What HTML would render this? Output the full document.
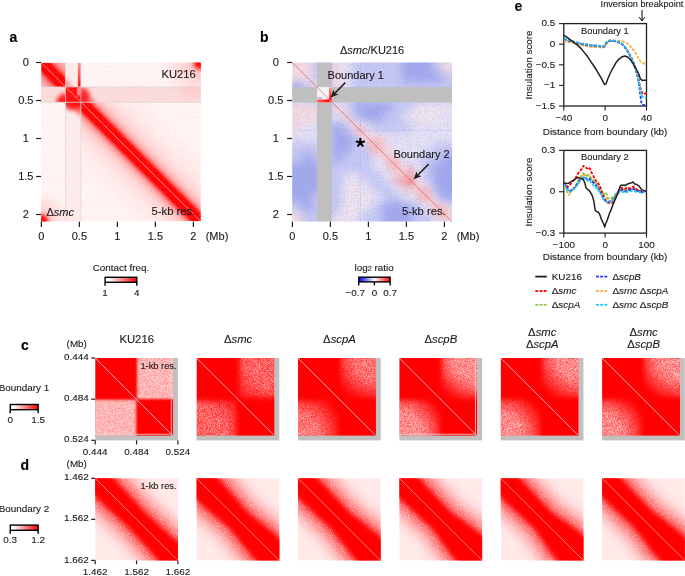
<!DOCTYPE html>
<html><head><meta charset="utf-8"><style>
html,body{margin:0;padding:0;background:#fff;}
svg{display:block;font-family:"Liberation Sans", sans-serif;will-change:transform;}
</style></head><body>
<svg width="685" height="576" viewBox="0 0 685 576">
<defs><clipPath id="clipA"><rect x="0" y="0" width="159.8" height="159.0"/></clipPath><filter id="blur1" x="-50%" y="-50%" width="200%" height="200%"><feGaussianBlur stdDeviation="1"/></filter><filter id="blur2" x="-50%" y="-50%" width="200%" height="200%"><feGaussianBlur stdDeviation="2"/></filter><filter id="blur4" x="-50%" y="-50%" width="200%" height="200%"><feGaussianBlur stdDeviation="4"/></filter><clipPath id="aL"><rect x="0" y="24.4" width="24.4" height="15.399999999999999"/></clipPath><clipPath id="aB"><rect x="24.4" y="39.8" width="15.399999999999999" height="120.00000000000001"/></clipPath><clipPath id="aR"><rect x="39.8" y="24.4" width="120.00000000000001" height="15.399999999999999"/></clipPath><clipPath id="aT"><rect x="24.4" y="0" width="15.399999999999999" height="24.4"/></clipPath><clipPath id="aI"><rect x="24.4" y="24.4" width="15.399999999999999" height="15.399999999999999"/></clipPath><linearGradient id="gA1" gradientUnits="userSpaceOnUse" x1="37.47" y1="122.33" x2="122.33" y2="37.47"><stop offset="0.0833" stop-color="#ff0000" stop-opacity="0"/><stop offset="0.2083" stop-color="#ff0000" stop-opacity="0.025"/><stop offset="0.2917" stop-color="#ff0000" stop-opacity="0.06"/><stop offset="0.3583" stop-color="#ff0000" stop-opacity="0.13"/><stop offset="0.3958" stop-color="#ff0000" stop-opacity="0.24"/><stop offset="0.4183" stop-color="#ff0000" stop-opacity="0.37"/><stop offset="0.435" stop-color="#ff0000" stop-opacity="0.56"/><stop offset="0.4483" stop-color="#ff0000" stop-opacity="0.8"/><stop offset="0.4617" stop-color="#ff0000" stop-opacity="1"/><stop offset="0.5" stop-color="#ff0000" stop-opacity="1"/><stop offset="0.5383" stop-color="#ff0000" stop-opacity="1"/><stop offset="0.5517" stop-color="#ff0000" stop-opacity="0.8"/><stop offset="0.565" stop-color="#ff0000" stop-opacity="0.56"/><stop offset="0.5817" stop-color="#ff0000" stop-opacity="0.37"/><stop offset="0.6042" stop-color="#ff0000" stop-opacity="0.24"/><stop offset="0.6417" stop-color="#ff0000" stop-opacity="0.13"/><stop offset="0.7083" stop-color="#ff0000" stop-opacity="0.06"/><stop offset="0.7917" stop-color="#ff0000" stop-opacity="0.025"/><stop offset="0.9167" stop-color="#ff0000" stop-opacity="0"/></linearGradient><linearGradient id="gStripe" x1="0" y1="0" x2="0" y2="1"><stop offset="0" stop-color="#ff0000" stop-opacity="0.35"/><stop offset="1" stop-color="#ff0000" stop-opacity="0.95"/></linearGradient><clipPath id="aBand"><rect x="0" y="0" width="24.4" height="24.4"/><rect x="24.4" y="24.4" width="15.399999999999999" height="15.399999999999999"/><rect x="39.8" y="39.8" width="120.00000000000001" height="119.2"/></clipPath><radialGradient id="gCorner" r="0.5"><stop offset="0" stop-color="#ff0000" stop-opacity="0.3"/><stop offset="0.4" stop-color="#ff0000" stop-opacity="0.12"/><stop offset="1" stop-color="#ff0000" stop-opacity="0"/></radialGradient><filter id="nzA" filterUnits="userSpaceOnUse" x="0" y="0" width="159.8" height="159.0" color-interpolation-filters="sRGB"><feTurbulence type="fractalNoise" baseFrequency="1.2" numOctaves="1" seed="11" result="n"/><feColorMatrix in="n" type="matrix" values="0 0 0 0 1  0 0 0 0 1  0 0 0 0 1  3.0 0 0 0 -1.6" result="L0"/><feColorMatrix in="n" type="matrix" values="0 0 0 0 1  0 0 0 0 0.55  0 0 0 0 0.55  -3.0 0 0 0 1.45" result="L1"/><feMerge><feMergeNode in="L0"/><feMergeNode in="L1"/></feMerge></filter><clipPath id="clipB"><rect x="0" y="0" width="159.8" height="159.0"/></clipPath><filter id="blurB" filterUnits="userSpaceOnUse" x="-20" y="-20" width="200" height="200"><feGaussianBlur stdDeviation="4.5"/></filter><filter id="blur3" x="-50%" y="-50%" width="200%" height="200%"><feGaussianBlur stdDeviation="2.5"/></filter><linearGradient id="gBand" gradientUnits="userSpaceOnUse" x1="37.47" y1="122.33" x2="122.33" y2="37.47"><stop offset="0" stop-color="#f6d0d4" stop-opacity="0"/><stop offset="0.425" stop-color="#f6d0d4" stop-opacity="0"/><stop offset="0.4525" stop-color="#f6d0d4" stop-opacity="0.2"/><stop offset="0.4708333333333333" stop-color="#f6d0d4" stop-opacity="0.5"/><stop offset="0.5291666666666667" stop-color="#f6d0d4" stop-opacity="0.5"/><stop offset="0.5475" stop-color="#f6d0d4" stop-opacity="0.2"/><stop offset="0.575" stop-color="#f6d0d4" stop-opacity="0"/><stop offset="1" stop-color="#f6d0d4" stop-opacity="0"/></linearGradient><filter id="nzB" filterUnits="userSpaceOnUse" x="0" y="0" width="159.8" height="159.0" color-interpolation-filters="sRGB"><feTurbulence type="fractalNoise" baseFrequency="1.3" numOctaves="1" seed="7" result="n"/><feColorMatrix in="n" type="matrix" values="0 0 0 0 0.97  0 0 0 0 0.6  0 0 0 0 0.62  3.0 0 0 0 -1.6" result="L0"/><feColorMatrix in="n" type="matrix" values="0 0 0 0 0.5  0 0 0 0 0.55  0 0 0 0 0.97  -3.0 0 0 0 1.4" result="L1"/><feMerge><feMergeNode in="L0"/><feMergeNode in="L1"/></feMerge></filter><linearGradient id="ibar1" x1="0" y1="0" x2="1" y2="0"><stop offset="0" stop-color="#ff6060"/><stop offset="1" stop-color="#ff0000"/></linearGradient><linearGradient id="ibar2" x1="0" y1="0" x2="0" y2="1"><stop offset="0" stop-color="#ff9090"/><stop offset="1" stop-color="#ff0000"/></linearGradient><linearGradient id="cbRed" x1="0" y1="0" x2="1" y2="0"><stop offset="0" stop-color="#fff"/><stop offset="0.12" stop-color="#fff"/><stop offset="1" stop-color="#ff0000"/></linearGradient><linearGradient id="cbBWR" x1="0" y1="0" x2="1" y2="0"><stop offset="0" stop-color="#0000ff"/><stop offset="0.5" stop-color="#ffffff"/><stop offset="1" stop-color="#ff0000"/></linearGradient><clipPath id="clip1"><rect x="563.8" y="22.6" width="83.70000000000005" height="84.4"/></clipPath><clipPath id="clip2"><rect x="563.8" y="149.4" width="83.70000000000005" height="84.69999999999999"/></clipPath><clipPath id="cclip0"><rect x="0" y="0" width="78.0" height="77.8"/></clipPath><filter id="cb0" x="-50%" y="-50%" width="200%" height="200%"><feGaussianBlur stdDeviation="0.8"/></filter><radialGradient id="cr0a" gradientUnits="userSpaceOnUse" cx="78.0" cy="0" r="80"><stop offset="0" stop-color="#ffffff" stop-opacity="1.0"/><stop offset="0.85" stop-color="#ffffff" stop-opacity="1.0"/><stop offset="1" stop-color="#ffffff" stop-opacity="0"/></radialGradient><radialGradient id="cr0b" gradientUnits="userSpaceOnUse" cx="0" cy="77.8" r="80"><stop offset="0" stop-color="#ffffff" stop-opacity="1.0"/><stop offset="0.85" stop-color="#ffffff" stop-opacity="1.0"/><stop offset="1" stop-color="#ffffff" stop-opacity="0"/></radialGradient><filter id="spk0" filterUnits="userSpaceOnUse" x="0" y="0" width="78.0" height="77.8" color-interpolation-filters="sRGB"><feTurbulence type="fractalNoise" baseFrequency="1.6" numOctaves="1" seed="1" result="n"/><feColorMatrix in="n" type="matrix" values="0 0 0 0 1  0 0 0 0 1  0 0 0 0 1  0.6 0 0 0 0.41" result="w"/><feComposite in="w" in2="SourceGraphic" operator="arithmetic" k1="1" k2="0" k3="0" k4="0"/></filter><clipPath id="dclip0"><rect x="0" y="0" width="82.8" height="82.2"/></clipPath><filter id="db0" x="-50%" y="-50%" width="200%" height="200%"><feGaussianBlur stdDeviation="2.2"/></filter><filter id="dh0" x="-50%" y="-50%" width="200%" height="200%"><feGaussianBlur stdDeviation="5"/></filter><filter id="dspk0" filterUnits="userSpaceOnUse" x="0" y="0" width="82.8" height="82.2" color-interpolation-filters="sRGB"><feTurbulence type="fractalNoise" baseFrequency="1.1" numOctaves="1" seed="2" result="n"/><feColorMatrix in="n" type="matrix" values="0 0 0 0 1  0 0 0 0 1  0 0 0 0 1  2.2 0 0 0 -0.1" result="w"/><feComposite in="w" in2="SourceGraphic" operator="arithmetic" k1="1" k2="0" k3="0" k4="0"/></filter><clipPath id="cclip1"><rect x="0" y="0" width="78.0" height="77.8"/></clipPath><filter id="cb1" x="-50%" y="-50%" width="200%" height="200%"><feGaussianBlur stdDeviation="2.4"/></filter><radialGradient id="cr1a" gradientUnits="userSpaceOnUse" cx="78.0" cy="0" r="60"><stop offset="0" stop-color="#ffffff" stop-opacity="1.0"/><stop offset="0.5" stop-color="#ffffff" stop-opacity="1.0"/><stop offset="1" stop-color="#ffffff" stop-opacity="0"/></radialGradient><radialGradient id="cr1b" gradientUnits="userSpaceOnUse" cx="0" cy="77.8" r="60"><stop offset="0" stop-color="#ffffff" stop-opacity="1.0"/><stop offset="0.5" stop-color="#ffffff" stop-opacity="1.0"/><stop offset="1" stop-color="#ffffff" stop-opacity="0"/></radialGradient><filter id="spk1" filterUnits="userSpaceOnUse" x="0" y="0" width="78.0" height="77.8" color-interpolation-filters="sRGB"><feTurbulence type="fractalNoise" baseFrequency="1.6" numOctaves="1" seed="4" result="n"/><feColorMatrix in="n" type="matrix" values="0 0 0 0 1  0 0 0 0 1  0 0 0 0 1  1.0 0 0 0 -0.12" result="w"/><feComposite in="w" in2="SourceGraphic" operator="arithmetic" k1="1" k2="0" k3="0" k4="0"/></filter><clipPath id="dclip1"><rect x="0" y="0" width="82.8" height="82.2"/></clipPath><filter id="db1" x="-50%" y="-50%" width="200%" height="200%"><feGaussianBlur stdDeviation="2.2"/></filter><filter id="dh1" x="-50%" y="-50%" width="200%" height="200%"><feGaussianBlur stdDeviation="5"/></filter><filter id="dspk1" filterUnits="userSpaceOnUse" x="0" y="0" width="82.8" height="82.2" color-interpolation-filters="sRGB"><feTurbulence type="fractalNoise" baseFrequency="1.1" numOctaves="1" seed="7" result="n"/><feColorMatrix in="n" type="matrix" values="0 0 0 0 1  0 0 0 0 1  0 0 0 0 1  2.2 0 0 0 -0.1" result="w"/><feComposite in="w" in2="SourceGraphic" operator="arithmetic" k1="1" k2="0" k3="0" k4="0"/></filter><clipPath id="cclip2"><rect x="0" y="0" width="78.0" height="77.8"/></clipPath><filter id="cb2" x="-50%" y="-50%" width="200%" height="200%"><feGaussianBlur stdDeviation="2.2"/></filter><radialGradient id="cr2a" gradientUnits="userSpaceOnUse" cx="78.0" cy="0" r="47"><stop offset="0" stop-color="#ffffff" stop-opacity="1.0"/><stop offset="0.45" stop-color="#ffffff" stop-opacity="1.0"/><stop offset="1" stop-color="#ffffff" stop-opacity="0"/></radialGradient><radialGradient id="cr2b" gradientUnits="userSpaceOnUse" cx="0" cy="77.8" r="47"><stop offset="0" stop-color="#ffffff" stop-opacity="1.0"/><stop offset="0.45" stop-color="#ffffff" stop-opacity="1.0"/><stop offset="1" stop-color="#ffffff" stop-opacity="0"/></radialGradient><filter id="spk2" filterUnits="userSpaceOnUse" x="0" y="0" width="78.0" height="77.8" color-interpolation-filters="sRGB"><feTurbulence type="fractalNoise" baseFrequency="1.6" numOctaves="1" seed="7" result="n"/><feColorMatrix in="n" type="matrix" values="0 0 0 0 1  0 0 0 0 1  0 0 0 0 1  1.0 0 0 0 -0.05" result="w"/><feComposite in="w" in2="SourceGraphic" operator="arithmetic" k1="1" k2="0" k3="0" k4="0"/></filter><clipPath id="dclip2"><rect x="0" y="0" width="82.8" height="82.2"/></clipPath><filter id="db2" x="-50%" y="-50%" width="200%" height="200%"><feGaussianBlur stdDeviation="2.2"/></filter><filter id="dh2" x="-50%" y="-50%" width="200%" height="200%"><feGaussianBlur stdDeviation="5"/></filter><filter id="dspk2" filterUnits="userSpaceOnUse" x="0" y="0" width="82.8" height="82.2" color-interpolation-filters="sRGB"><feTurbulence type="fractalNoise" baseFrequency="1.1" numOctaves="1" seed="12" result="n"/><feColorMatrix in="n" type="matrix" values="0 0 0 0 1  0 0 0 0 1  0 0 0 0 1  2.2 0 0 0 -0.1" result="w"/><feComposite in="w" in2="SourceGraphic" operator="arithmetic" k1="1" k2="0" k3="0" k4="0"/></filter><clipPath id="cclip3"><rect x="0" y="0" width="78.0" height="77.8"/></clipPath><filter id="cb3" x="-50%" y="-50%" width="200%" height="200%"><feGaussianBlur stdDeviation="2.2"/></filter><radialGradient id="cr3a" gradientUnits="userSpaceOnUse" cx="78.0" cy="0" r="48"><stop offset="0" stop-color="#ffffff" stop-opacity="1.0"/><stop offset="0.5" stop-color="#ffffff" stop-opacity="1.0"/><stop offset="1" stop-color="#ffffff" stop-opacity="0"/></radialGradient><radialGradient id="cr3b" gradientUnits="userSpaceOnUse" cx="0" cy="77.8" r="48"><stop offset="0" stop-color="#ffffff" stop-opacity="1.0"/><stop offset="0.5" stop-color="#ffffff" stop-opacity="1.0"/><stop offset="1" stop-color="#ffffff" stop-opacity="0"/></radialGradient><filter id="spk3" filterUnits="userSpaceOnUse" x="0" y="0" width="78.0" height="77.8" color-interpolation-filters="sRGB"><feTurbulence type="fractalNoise" baseFrequency="1.6" numOctaves="1" seed="10" result="n"/><feColorMatrix in="n" type="matrix" values="0 0 0 0 1  0 0 0 0 1  0 0 0 0 1  1.0 0 0 0 0.04" result="w"/><feComposite in="w" in2="SourceGraphic" operator="arithmetic" k1="1" k2="0" k3="0" k4="0"/></filter><clipPath id="dclip3"><rect x="0" y="0" width="82.8" height="82.2"/></clipPath><filter id="db3" x="-50%" y="-50%" width="200%" height="200%"><feGaussianBlur stdDeviation="2.2"/></filter><filter id="dh3" x="-50%" y="-50%" width="200%" height="200%"><feGaussianBlur stdDeviation="5"/></filter><filter id="dspk3" filterUnits="userSpaceOnUse" x="0" y="0" width="82.8" height="82.2" color-interpolation-filters="sRGB"><feTurbulence type="fractalNoise" baseFrequency="1.1" numOctaves="1" seed="17" result="n"/><feColorMatrix in="n" type="matrix" values="0 0 0 0 1  0 0 0 0 1  0 0 0 0 1  2.2 0 0 0 -0.1" result="w"/><feComposite in="w" in2="SourceGraphic" operator="arithmetic" k1="1" k2="0" k3="0" k4="0"/></filter><clipPath id="cclip4"><rect x="0" y="0" width="78.0" height="77.8"/></clipPath><filter id="cb4" x="-50%" y="-50%" width="200%" height="200%"><feGaussianBlur stdDeviation="2.2"/></filter><radialGradient id="cr4a" gradientUnits="userSpaceOnUse" cx="78.0" cy="0" r="47"><stop offset="0" stop-color="#ffffff" stop-opacity="1.0"/><stop offset="0.45" stop-color="#ffffff" stop-opacity="1.0"/><stop offset="1" stop-color="#ffffff" stop-opacity="0"/></radialGradient><radialGradient id="cr4b" gradientUnits="userSpaceOnUse" cx="0" cy="77.8" r="47"><stop offset="0" stop-color="#ffffff" stop-opacity="1.0"/><stop offset="0.45" stop-color="#ffffff" stop-opacity="1.0"/><stop offset="1" stop-color="#ffffff" stop-opacity="0"/></radialGradient><filter id="spk4" filterUnits="userSpaceOnUse" x="0" y="0" width="78.0" height="77.8" color-interpolation-filters="sRGB"><feTurbulence type="fractalNoise" baseFrequency="1.6" numOctaves="1" seed="13" result="n"/><feColorMatrix in="n" type="matrix" values="0 0 0 0 1  0 0 0 0 1  0 0 0 0 1  1.0 0 0 0 0.04" result="w"/><feComposite in="w" in2="SourceGraphic" operator="arithmetic" k1="1" k2="0" k3="0" k4="0"/></filter><clipPath id="dclip4"><rect x="0" y="0" width="82.8" height="82.2"/></clipPath><filter id="db4" x="-50%" y="-50%" width="200%" height="200%"><feGaussianBlur stdDeviation="2.2"/></filter><filter id="dh4" x="-50%" y="-50%" width="200%" height="200%"><feGaussianBlur stdDeviation="5"/></filter><filter id="dspk4" filterUnits="userSpaceOnUse" x="0" y="0" width="82.8" height="82.2" color-interpolation-filters="sRGB"><feTurbulence type="fractalNoise" baseFrequency="1.1" numOctaves="1" seed="22" result="n"/><feColorMatrix in="n" type="matrix" values="0 0 0 0 1  0 0 0 0 1  0 0 0 0 1  2.2 0 0 0 -0.1" result="w"/><feComposite in="w" in2="SourceGraphic" operator="arithmetic" k1="1" k2="0" k3="0" k4="0"/></filter><clipPath id="cclip5"><rect x="0" y="0" width="78.0" height="77.8"/></clipPath><filter id="cb5" x="-50%" y="-50%" width="200%" height="200%"><feGaussianBlur stdDeviation="2.2"/></filter><radialGradient id="cr5a" gradientUnits="userSpaceOnUse" cx="78.0" cy="0" r="46"><stop offset="0" stop-color="#ffffff" stop-opacity="1.0"/><stop offset="0.45" stop-color="#ffffff" stop-opacity="1.0"/><stop offset="1" stop-color="#ffffff" stop-opacity="0"/></radialGradient><radialGradient id="cr5b" gradientUnits="userSpaceOnUse" cx="0" cy="77.8" r="46"><stop offset="0" stop-color="#ffffff" stop-opacity="1.0"/><stop offset="0.45" stop-color="#ffffff" stop-opacity="1.0"/><stop offset="1" stop-color="#ffffff" stop-opacity="0"/></radialGradient><filter id="spk5" filterUnits="userSpaceOnUse" x="0" y="0" width="78.0" height="77.8" color-interpolation-filters="sRGB"><feTurbulence type="fractalNoise" baseFrequency="1.6" numOctaves="1" seed="16" result="n"/><feColorMatrix in="n" type="matrix" values="0 0 0 0 1  0 0 0 0 1  0 0 0 0 1  1.0 0 0 0 0.04" result="w"/><feComposite in="w" in2="SourceGraphic" operator="arithmetic" k1="1" k2="0" k3="0" k4="0"/></filter><clipPath id="dclip5"><rect x="0" y="0" width="82.8" height="82.2"/></clipPath><filter id="db5" x="-50%" y="-50%" width="200%" height="200%"><feGaussianBlur stdDeviation="2.2"/></filter><filter id="dh5" x="-50%" y="-50%" width="200%" height="200%"><feGaussianBlur stdDeviation="5"/></filter><filter id="dspk5" filterUnits="userSpaceOnUse" x="0" y="0" width="82.8" height="82.2" color-interpolation-filters="sRGB"><feTurbulence type="fractalNoise" baseFrequency="1.1" numOctaves="1" seed="27" result="n"/><feColorMatrix in="n" type="matrix" values="0 0 0 0 1  0 0 0 0 1  0 0 0 0 1  2.2 0 0 0 -0.1" result="w"/><feComposite in="w" in2="SourceGraphic" operator="arithmetic" k1="1" k2="0" k3="0" k4="0"/></filter></defs>
<rect width="685" height="576" fill="#fff"/>
<text x="9.60" y="42.30" font-size="14" text-anchor="start" font-weight="bold" font-style="normal" fill="#000" stroke="#000" stroke-width="0.12" >a</text>
<text x="260.00" y="42.30" font-size="14" text-anchor="start" font-weight="bold" font-style="normal" fill="#000" stroke="#000" stroke-width="0.12" >b</text>
<text x="514.60" y="11.30" font-size="14" text-anchor="start" font-weight="bold" font-style="normal" fill="#000" stroke="#000" stroke-width="0.12" >e</text>
<text x="21.00" y="349.80" font-size="14" text-anchor="start" font-weight="bold" font-style="normal" fill="#000" stroke="#000" stroke-width="0.12" >c</text>
<text x="20.40" y="469.90" font-size="14" text-anchor="start" font-weight="bold" font-style="normal" fill="#000" stroke="#000" stroke-width="0.12" >d</text>
<line x1="36.10" y1="62.50" x2="41.20" y2="62.50" stroke="#231f20" stroke-width="1.2" />
<text x="25.80" y="66.00" font-size="11" text-anchor="middle" font-weight="normal" font-style="normal" fill="#1c1a1a" stroke="#1c1a1a" stroke-width="0.12" >0</text>
<line x1="41.40" y1="221.60" x2="41.40" y2="227.00" stroke="#231f20" stroke-width="1.2" />
<text x="41.40" y="239.80" font-size="11" text-anchor="middle" font-weight="normal" font-style="normal" fill="#1c1a1a" stroke="#1c1a1a" stroke-width="0.12" >0</text>
<line x1="36.10" y1="100.50" x2="41.20" y2="100.50" stroke="#231f20" stroke-width="1.2" />
<text x="25.80" y="104.00" font-size="11" text-anchor="middle" font-weight="normal" font-style="normal" fill="#1c1a1a" stroke="#1c1a1a" stroke-width="0.12" >0.5</text>
<line x1="79.40" y1="221.60" x2="79.40" y2="227.00" stroke="#231f20" stroke-width="1.2" />
<text x="79.40" y="239.80" font-size="11" text-anchor="middle" font-weight="normal" font-style="normal" fill="#1c1a1a" stroke="#1c1a1a" stroke-width="0.12" >0.5</text>
<line x1="36.10" y1="138.50" x2="41.20" y2="138.50" stroke="#231f20" stroke-width="1.2" />
<text x="25.80" y="142.00" font-size="11" text-anchor="middle" font-weight="normal" font-style="normal" fill="#1c1a1a" stroke="#1c1a1a" stroke-width="0.12" >1</text>
<line x1="117.40" y1="221.60" x2="117.40" y2="227.00" stroke="#231f20" stroke-width="1.2" />
<text x="117.40" y="239.80" font-size="11" text-anchor="middle" font-weight="normal" font-style="normal" fill="#1c1a1a" stroke="#1c1a1a" stroke-width="0.12" >1</text>
<line x1="36.10" y1="176.50" x2="41.20" y2="176.50" stroke="#231f20" stroke-width="1.2" />
<text x="25.80" y="180.00" font-size="11" text-anchor="middle" font-weight="normal" font-style="normal" fill="#1c1a1a" stroke="#1c1a1a" stroke-width="0.12" >1.5</text>
<line x1="155.40" y1="221.60" x2="155.40" y2="227.00" stroke="#231f20" stroke-width="1.2" />
<text x="155.40" y="239.80" font-size="11" text-anchor="middle" font-weight="normal" font-style="normal" fill="#1c1a1a" stroke="#1c1a1a" stroke-width="0.12" >1.5</text>
<line x1="36.10" y1="214.50" x2="41.20" y2="214.50" stroke="#231f20" stroke-width="1.2" />
<text x="25.80" y="218.00" font-size="11" text-anchor="middle" font-weight="normal" font-style="normal" fill="#1c1a1a" stroke="#1c1a1a" stroke-width="0.12" >2</text>
<line x1="193.40" y1="221.60" x2="193.40" y2="227.00" stroke="#231f20" stroke-width="1.2" />
<text x="193.40" y="239.80" font-size="11" text-anchor="middle" font-weight="normal" font-style="normal" fill="#1c1a1a" stroke="#1c1a1a" stroke-width="0.12" >2</text>
<text x="205.70" y="239.80" font-size="11" text-anchor="start" font-weight="normal" font-style="normal" fill="#1c1a1a" stroke="#1c1a1a" stroke-width="0.12" >(Mb)</text>
<line x1="287.10" y1="62.50" x2="292.20" y2="62.50" stroke="#231f20" stroke-width="1.2" />
<text x="275.70" y="66.00" font-size="11" text-anchor="middle" font-weight="normal" font-style="normal" fill="#1c1a1a" stroke="#1c1a1a" stroke-width="0.12" >0</text>
<line x1="292.40" y1="221.60" x2="292.40" y2="227.00" stroke="#231f20" stroke-width="1.2" />
<text x="292.40" y="239.80" font-size="11" text-anchor="middle" font-weight="normal" font-style="normal" fill="#1c1a1a" stroke="#1c1a1a" stroke-width="0.12" >0</text>
<line x1="287.10" y1="100.50" x2="292.20" y2="100.50" stroke="#231f20" stroke-width="1.2" />
<text x="275.70" y="104.00" font-size="11" text-anchor="middle" font-weight="normal" font-style="normal" fill="#1c1a1a" stroke="#1c1a1a" stroke-width="0.12" >0.5</text>
<line x1="330.40" y1="221.60" x2="330.40" y2="227.00" stroke="#231f20" stroke-width="1.2" />
<text x="330.40" y="239.80" font-size="11" text-anchor="middle" font-weight="normal" font-style="normal" fill="#1c1a1a" stroke="#1c1a1a" stroke-width="0.12" >0.5</text>
<line x1="287.10" y1="138.50" x2="292.20" y2="138.50" stroke="#231f20" stroke-width="1.2" />
<text x="275.70" y="142.00" font-size="11" text-anchor="middle" font-weight="normal" font-style="normal" fill="#1c1a1a" stroke="#1c1a1a" stroke-width="0.12" >1</text>
<line x1="368.40" y1="221.60" x2="368.40" y2="227.00" stroke="#231f20" stroke-width="1.2" />
<text x="368.40" y="239.80" font-size="11" text-anchor="middle" font-weight="normal" font-style="normal" fill="#1c1a1a" stroke="#1c1a1a" stroke-width="0.12" >1</text>
<line x1="287.10" y1="176.50" x2="292.20" y2="176.50" stroke="#231f20" stroke-width="1.2" />
<text x="275.70" y="180.00" font-size="11" text-anchor="middle" font-weight="normal" font-style="normal" fill="#1c1a1a" stroke="#1c1a1a" stroke-width="0.12" >1.5</text>
<line x1="406.40" y1="221.60" x2="406.40" y2="227.00" stroke="#231f20" stroke-width="1.2" />
<text x="406.40" y="239.80" font-size="11" text-anchor="middle" font-weight="normal" font-style="normal" fill="#1c1a1a" stroke="#1c1a1a" stroke-width="0.12" >1.5</text>
<line x1="287.10" y1="214.50" x2="292.20" y2="214.50" stroke="#231f20" stroke-width="1.2" />
<text x="275.70" y="218.00" font-size="11" text-anchor="middle" font-weight="normal" font-style="normal" fill="#1c1a1a" stroke="#1c1a1a" stroke-width="0.12" >2</text>
<line x1="444.40" y1="221.60" x2="444.40" y2="227.00" stroke="#231f20" stroke-width="1.2" />
<text x="444.40" y="239.80" font-size="11" text-anchor="middle" font-weight="normal" font-style="normal" fill="#1c1a1a" stroke="#1c1a1a" stroke-width="0.12" >2</text>
<text x="456.70" y="239.80" font-size="11" text-anchor="start" font-weight="normal" font-style="normal" fill="#1c1a1a" stroke="#1c1a1a" stroke-width="0.12" >(Mb)</text>
<g transform="translate(41.1,62.5)" clip-path="url(#clipA)">
<rect x="0" y="0" width="159.8" height="159.0" fill="#fff5f5"/>
<rect x="0" y="24.4" width="159.8" height="15.399999999999999" fill="#fbdcdd"/>
<rect x="0" y="0" width="24.4" height="24.4" fill="#fbd6d6"/>
<rect x="24.4" y="0" width="15.399999999999999" height="159.0" fill="#fdecec"/>
<rect x="0" y="0" width="159.8" height="159.0" fill="url(#gA1)" clip-path="url(#aBand)"/>
<rect x="24.4" y="24.4" width="15.399999999999999" height="15.399999999999999" fill="#ff0d0d"/>
<g clip-path="url(#aI)"><rect x="36.6" y="24" width="2.2" height="9" fill="#ffe0e0" filter="url(#blur1)"/></g>
<g clip-path="url(#aT)"><rect x="36.8" y="0" width="3.0" height="24.4" fill="url(#gStripe)"/></g>
<g clip-path="url(#aL)"><ellipse cx="24.4" cy="39.8" rx="9" ry="9" fill="#ff0000" opacity="0.9" filter="url(#blur2)"/></g>
<g clip-path="url(#aB)"><ellipse cx="32" cy="39.8" rx="10" ry="8" fill="#ff0000" opacity="0.9" filter="url(#blur2)"/><ellipse cx="39.8" cy="39.8" rx="6" ry="14" fill="#ff0000" opacity="0.5" filter="url(#blur2)"/></g>
<g clip-path="url(#aR)"><ellipse cx="39.8" cy="33" rx="9" ry="8" fill="#ff0000" opacity="0.8" filter="url(#blur2)"/><ellipse cx="39.8" cy="39.8" rx="14" ry="6" fill="#ff0000" opacity="0.5" filter="url(#blur2)"/></g>
<g clip-path="url(#aT)"><ellipse cx="24.4" cy="24.4" rx="6" ry="8" fill="#ff0000" opacity="0.35" filter="url(#blur2)"/></g>
<circle cx="159.8" cy="0" r="42" fill="url(#gCorner)"/><circle cx="0" cy="159.0" r="30" fill="url(#gCorner)"/>
<g filter="url(#blur2)"><circle cx="159.8" cy="0" r="7" fill="#ff0000"/><circle cx="0" cy="159.0" r="7" fill="#ff0000"/></g>
<rect x="0" y="0" width="159.8" height="159.0" fill="#fff" filter="url(#nzA)" opacity="0.2"/>
<line x1="24.4" y1="0" x2="24.4" y2="159.0" stroke="#dcd6d7" stroke-width="0.7"/>
<line x1="0" y1="24.4" x2="159.8" y2="24.4" stroke="#dcd6d7" stroke-width="0.7"/>
<line x1="39.8" y1="0" x2="39.8" y2="159.0" stroke="#dcd6d7" stroke-width="0.7"/>
<line x1="0" y1="39.8" x2="159.8" y2="39.8" stroke="#dcd6d7" stroke-width="0.7"/>
<line x1="0" y1="0" x2="159.8" y2="159.0" stroke="#f6b0b0" stroke-width="0.75"/>
</g>
<text x="195.80" y="78.30" font-size="11.2" text-anchor="end" font-weight="normal" font-style="normal" fill="#1c1a1a" stroke="#1c1a1a" stroke-width="0.12" >KU216</text>
<text x="46.50" y="215.80" font-size="11" text-anchor="start" font-weight="normal" font-style="normal" fill="#1c1a1a" stroke="#1c1a1a" stroke-width="0.12" >Δ<tspan font-style="italic">smc</tspan></text>
<text x="195.40" y="215.20" font-size="11.3" text-anchor="end" font-weight="normal" font-style="normal" fill="#1c1a1a" stroke="#1c1a1a" stroke-width="0.12" >5-kb res.</text>
<g transform="translate(292.2,62.5)" clip-path="url(#clipB)">
<g filter="url(#blurB)">
<rect x="-10" y="-10" width="10.3" height="10.3" fill="#f3dde3"/>
<rect x="0" y="-10" width="10.3" height="10.3" fill="#f3dde3"/>
<rect x="10" y="-10" width="10.3" height="10.3" fill="#f3dde3"/>
<rect x="20" y="-10" width="10.3" height="10.3" fill="#c3c9f5"/>
<rect x="30" y="-10" width="10.3" height="10.3" fill="#c3c9f5"/>
<rect x="40" y="-10" width="10.3" height="10.3" fill="#f3dde3"/>
<rect x="50" y="-10" width="10.3" height="10.3" fill="#e3e3f7"/>
<rect x="60" y="-10" width="10.3" height="10.3" fill="#c3c9f5"/>
<rect x="70" y="-10" width="10.3" height="10.3" fill="#c3c9f5"/>
<rect x="80" y="-10" width="10.3" height="10.3" fill="#c3c9f5"/>
<rect x="90" y="-10" width="10.3" height="10.3" fill="#c3c9f5"/>
<rect x="100" y="-10" width="10.3" height="10.3" fill="#c3c9f5"/>
<rect x="110" y="-10" width="10.3" height="10.3" fill="#9ea8ef"/>
<rect x="120" y="-10" width="10.3" height="10.3" fill="#9ea8ef"/>
<rect x="130" y="-10" width="10.3" height="10.3" fill="#9ea8ef"/>
<rect x="140" y="-10" width="10.3" height="10.3" fill="#c3c9f5"/>
<rect x="150" y="-10" width="10.3" height="10.3" fill="#f3dde3"/>
<rect x="160" y="-10" width="10.3" height="10.3" fill="#f3dde3"/>
<rect x="-10" y="0" width="10.3" height="10.3" fill="#f3dde3"/>
<rect x="0" y="0" width="10.3" height="10.3" fill="#f3dde3"/>
<rect x="10" y="0" width="10.3" height="10.3" fill="#f3dde3"/>
<rect x="20" y="0" width="10.3" height="10.3" fill="#c3c9f5"/>
<rect x="30" y="0" width="10.3" height="10.3" fill="#c3c9f5"/>
<rect x="40" y="0" width="10.3" height="10.3" fill="#f3dde3"/>
<rect x="50" y="0" width="10.3" height="10.3" fill="#e3e3f7"/>
<rect x="60" y="0" width="10.3" height="10.3" fill="#c3c9f5"/>
<rect x="70" y="0" width="10.3" height="10.3" fill="#c3c9f5"/>
<rect x="80" y="0" width="10.3" height="10.3" fill="#c3c9f5"/>
<rect x="90" y="0" width="10.3" height="10.3" fill="#c3c9f5"/>
<rect x="100" y="0" width="10.3" height="10.3" fill="#c3c9f5"/>
<rect x="110" y="0" width="10.3" height="10.3" fill="#9ea8ef"/>
<rect x="120" y="0" width="10.3" height="10.3" fill="#9ea8ef"/>
<rect x="130" y="0" width="10.3" height="10.3" fill="#9ea8ef"/>
<rect x="140" y="0" width="10.3" height="10.3" fill="#c3c9f5"/>
<rect x="150" y="0" width="10.3" height="10.3" fill="#f3dde3"/>
<rect x="160" y="0" width="10.3" height="10.3" fill="#f3dde3"/>
<rect x="-10" y="10" width="10.3" height="10.3" fill="#f3dde3"/>
<rect x="0" y="10" width="10.3" height="10.3" fill="#f3dde3"/>
<rect x="10" y="10" width="10.3" height="10.3" fill="#f3dde3"/>
<rect x="20" y="10" width="10.3" height="10.3" fill="#c3c9f5"/>
<rect x="30" y="10" width="10.3" height="10.3" fill="#c3c9f5"/>
<rect x="40" y="10" width="10.3" height="10.3" fill="#f3dde3"/>
<rect x="50" y="10" width="10.3" height="10.3" fill="#e3e3f7"/>
<rect x="60" y="10" width="10.3" height="10.3" fill="#c3c9f5"/>
<rect x="70" y="10" width="10.3" height="10.3" fill="#c3c9f5"/>
<rect x="80" y="10" width="10.3" height="10.3" fill="#c3c9f5"/>
<rect x="90" y="10" width="10.3" height="10.3" fill="#c3c9f5"/>
<rect x="100" y="10" width="10.3" height="10.3" fill="#c3c9f5"/>
<rect x="110" y="10" width="10.3" height="10.3" fill="#9ea8ef"/>
<rect x="120" y="10" width="10.3" height="10.3" fill="#9ea8ef"/>
<rect x="130" y="10" width="10.3" height="10.3" fill="#9ea8ef"/>
<rect x="140" y="10" width="10.3" height="10.3" fill="#9ea8ef"/>
<rect x="150" y="10" width="10.3" height="10.3" fill="#c3c9f5"/>
<rect x="160" y="10" width="10.3" height="10.3" fill="#c3c9f5"/>
<rect x="-10" y="20" width="10.3" height="10.3" fill="#9ea8ef"/>
<rect x="0" y="20" width="10.3" height="10.3" fill="#9ea8ef"/>
<rect x="10" y="20" width="10.3" height="10.3" fill="#c3c9f5"/>
<rect x="20" y="20" width="10.3" height="10.3" fill="#f3dde3"/>
<rect x="30" y="20" width="10.3" height="10.3" fill="#c3c9f5"/>
<rect x="40" y="20" width="10.3" height="10.3" fill="#f3dde3"/>
<rect x="50" y="20" width="10.3" height="10.3" fill="#e3e3f7"/>
<rect x="60" y="20" width="10.3" height="10.3" fill="#c3c9f5"/>
<rect x="70" y="20" width="10.3" height="10.3" fill="#c3c9f5"/>
<rect x="80" y="20" width="10.3" height="10.3" fill="#c3c9f5"/>
<rect x="90" y="20" width="10.3" height="10.3" fill="#c3c9f5"/>
<rect x="100" y="20" width="10.3" height="10.3" fill="#c3c9f5"/>
<rect x="110" y="20" width="10.3" height="10.3" fill="#c3c9f5"/>
<rect x="120" y="20" width="10.3" height="10.3" fill="#c3c9f5"/>
<rect x="130" y="20" width="10.3" height="10.3" fill="#c3c9f5"/>
<rect x="140" y="20" width="10.3" height="10.3" fill="#c3c9f5"/>
<rect x="150" y="20" width="10.3" height="10.3" fill="#c3c9f5"/>
<rect x="160" y="20" width="10.3" height="10.3" fill="#c3c9f5"/>
<rect x="-10" y="30" width="10.3" height="10.3" fill="#c3c9f5"/>
<rect x="0" y="30" width="10.3" height="10.3" fill="#c3c9f5"/>
<rect x="10" y="30" width="10.3" height="10.3" fill="#c3c9f5"/>
<rect x="20" y="30" width="10.3" height="10.3" fill="#c3c9f5"/>
<rect x="30" y="30" width="10.3" height="10.3" fill="#c3c9f5"/>
<rect x="40" y="30" width="10.3" height="10.3" fill="#c3c9f5"/>
<rect x="50" y="30" width="10.3" height="10.3" fill="#c3c9f5"/>
<rect x="60" y="30" width="10.3" height="10.3" fill="#c3c9f5"/>
<rect x="70" y="30" width="10.3" height="10.3" fill="#c3c9f5"/>
<rect x="80" y="30" width="10.3" height="10.3" fill="#c3c9f5"/>
<rect x="90" y="30" width="10.3" height="10.3" fill="#c3c9f5"/>
<rect x="100" y="30" width="10.3" height="10.3" fill="#c3c9f5"/>
<rect x="110" y="30" width="10.3" height="10.3" fill="#c3c9f5"/>
<rect x="120" y="30" width="10.3" height="10.3" fill="#c3c9f5"/>
<rect x="130" y="30" width="10.3" height="10.3" fill="#c3c9f5"/>
<rect x="140" y="30" width="10.3" height="10.3" fill="#c3c9f5"/>
<rect x="150" y="30" width="10.3" height="10.3" fill="#c3c9f5"/>
<rect x="160" y="30" width="10.3" height="10.3" fill="#c3c9f5"/>
<rect x="-10" y="40" width="10.3" height="10.3" fill="#f3dde3"/>
<rect x="0" y="40" width="10.3" height="10.3" fill="#f3dde3"/>
<rect x="10" y="40" width="10.3" height="10.3" fill="#f3dde3"/>
<rect x="20" y="40" width="10.3" height="10.3" fill="#f3dde3"/>
<rect x="30" y="40" width="10.3" height="10.3" fill="#c3c9f5"/>
<rect x="40" y="40" width="10.3" height="10.3" fill="#e3e3f7"/>
<rect x="50" y="40" width="10.3" height="10.3" fill="#e3e3f7"/>
<rect x="60" y="40" width="10.3" height="10.3" fill="#9ea8ef"/>
<rect x="70" y="40" width="10.3" height="10.3" fill="#9ea8ef"/>
<rect x="80" y="40" width="10.3" height="10.3" fill="#9ea8ef"/>
<rect x="90" y="40" width="10.3" height="10.3" fill="#9ea8ef"/>
<rect x="100" y="40" width="10.3" height="10.3" fill="#c3c9f5"/>
<rect x="110" y="40" width="10.3" height="10.3" fill="#c3c9f5"/>
<rect x="120" y="40" width="10.3" height="10.3" fill="#e3e3f7"/>
<rect x="130" y="40" width="10.3" height="10.3" fill="#efe6ef"/>
<rect x="140" y="40" width="10.3" height="10.3" fill="#efe6ef"/>
<rect x="150" y="40" width="10.3" height="10.3" fill="#efe6ef"/>
<rect x="160" y="40" width="10.3" height="10.3" fill="#efe6ef"/>
<rect x="-10" y="50" width="10.3" height="10.3" fill="#f3dde3"/>
<rect x="0" y="50" width="10.3" height="10.3" fill="#f3dde3"/>
<rect x="10" y="50" width="10.3" height="10.3" fill="#f3dde3"/>
<rect x="20" y="50" width="10.3" height="10.3" fill="#f3dde3"/>
<rect x="30" y="50" width="10.3" height="10.3" fill="#c3c9f5"/>
<rect x="40" y="50" width="10.3" height="10.3" fill="#e3e3f7"/>
<rect x="50" y="50" width="10.3" height="10.3" fill="#c3c9f5"/>
<rect x="60" y="50" width="10.3" height="10.3" fill="#c3c9f5"/>
<rect x="70" y="50" width="10.3" height="10.3" fill="#9ea8ef"/>
<rect x="80" y="50" width="10.3" height="10.3" fill="#9ea8ef"/>
<rect x="90" y="50" width="10.3" height="10.3" fill="#c3c9f5"/>
<rect x="100" y="50" width="10.3" height="10.3" fill="#c3c9f5"/>
<rect x="110" y="50" width="10.3" height="10.3" fill="#e3e3f7"/>
<rect x="120" y="50" width="10.3" height="10.3" fill="#efe6ef"/>
<rect x="130" y="50" width="10.3" height="10.3" fill="#efe6ef"/>
<rect x="140" y="50" width="10.3" height="10.3" fill="#efe6ef"/>
<rect x="150" y="50" width="10.3" height="10.3" fill="#e3e3f7"/>
<rect x="160" y="50" width="10.3" height="10.3" fill="#e3e3f7"/>
<rect x="-10" y="60" width="10.3" height="10.3" fill="#f3dde3"/>
<rect x="0" y="60" width="10.3" height="10.3" fill="#f3dde3"/>
<rect x="10" y="60" width="10.3" height="10.3" fill="#e3e3f7"/>
<rect x="20" y="60" width="10.3" height="10.3" fill="#e3e3f7"/>
<rect x="30" y="60" width="10.3" height="10.3" fill="#c3c9f5"/>
<rect x="40" y="60" width="10.3" height="10.3" fill="#9ea8ef"/>
<rect x="50" y="60" width="10.3" height="10.3" fill="#c3c9f5"/>
<rect x="60" y="60" width="10.3" height="10.3" fill="#e3e3f7"/>
<rect x="70" y="60" width="10.3" height="10.3" fill="#e3e3f7"/>
<rect x="80" y="60" width="10.3" height="10.3" fill="#c3c9f5"/>
<rect x="90" y="60" width="10.3" height="10.3" fill="#c3c9f5"/>
<rect x="100" y="60" width="10.3" height="10.3" fill="#c3c9f5"/>
<rect x="110" y="60" width="10.3" height="10.3" fill="#c3c9f5"/>
<rect x="120" y="60" width="10.3" height="10.3" fill="#e3e3f7"/>
<rect x="130" y="60" width="10.3" height="10.3" fill="#e3e3f7"/>
<rect x="140" y="60" width="10.3" height="10.3" fill="#e3e3f7"/>
<rect x="150" y="60" width="10.3" height="10.3" fill="#e3e3f7"/>
<rect x="160" y="60" width="10.3" height="10.3" fill="#e3e3f7"/>
<rect x="-10" y="70" width="10.3" height="10.3" fill="#e3e3f7"/>
<rect x="0" y="70" width="10.3" height="10.3" fill="#e3e3f7"/>
<rect x="10" y="70" width="10.3" height="10.3" fill="#e3e3f7"/>
<rect x="20" y="70" width="10.3" height="10.3" fill="#e3e3f7"/>
<rect x="30" y="70" width="10.3" height="10.3" fill="#c3c9f5"/>
<rect x="40" y="70" width="10.3" height="10.3" fill="#9ea8ef"/>
<rect x="50" y="70" width="10.3" height="10.3" fill="#9ea8ef"/>
<rect x="60" y="70" width="10.3" height="10.3" fill="#c3c9f5"/>
<rect x="70" y="70" width="10.3" height="10.3" fill="#f3dde3"/>
<rect x="80" y="70" width="10.3" height="10.3" fill="#f3dde3"/>
<rect x="90" y="70" width="10.3" height="10.3" fill="#e3e3f7"/>
<rect x="100" y="70" width="10.3" height="10.3" fill="#e3e3f7"/>
<rect x="110" y="70" width="10.3" height="10.3" fill="#e3e3f7"/>
<rect x="120" y="70" width="10.3" height="10.3" fill="#e3e3f7"/>
<rect x="130" y="70" width="10.3" height="10.3" fill="#e3e3f7"/>
<rect x="140" y="70" width="10.3" height="10.3" fill="#e3e3f7"/>
<rect x="150" y="70" width="10.3" height="10.3" fill="#e3e3f7"/>
<rect x="160" y="70" width="10.3" height="10.3" fill="#e3e3f7"/>
<rect x="-10" y="80" width="10.3" height="10.3" fill="#c3c9f5"/>
<rect x="0" y="80" width="10.3" height="10.3" fill="#c3c9f5"/>
<rect x="10" y="80" width="10.3" height="10.3" fill="#c3c9f5"/>
<rect x="20" y="80" width="10.3" height="10.3" fill="#c3c9f5"/>
<rect x="30" y="80" width="10.3" height="10.3" fill="#c3c9f5"/>
<rect x="40" y="80" width="10.3" height="10.3" fill="#9ea8ef"/>
<rect x="50" y="80" width="10.3" height="10.3" fill="#9ea8ef"/>
<rect x="60" y="80" width="10.3" height="10.3" fill="#c3c9f5"/>
<rect x="70" y="80" width="10.3" height="10.3" fill="#c3c9f5"/>
<rect x="80" y="80" width="10.3" height="10.3" fill="#f3dde3"/>
<rect x="90" y="80" width="10.3" height="10.3" fill="#f3dde3"/>
<rect x="100" y="80" width="10.3" height="10.3" fill="#e3e3f7"/>
<rect x="110" y="80" width="10.3" height="10.3" fill="#e3e3f7"/>
<rect x="120" y="80" width="10.3" height="10.3" fill="#e3e3f7"/>
<rect x="130" y="80" width="10.3" height="10.3" fill="#e3e3f7"/>
<rect x="140" y="80" width="10.3" height="10.3" fill="#c3c9f5"/>
<rect x="150" y="80" width="10.3" height="10.3" fill="#c3c9f5"/>
<rect x="160" y="80" width="10.3" height="10.3" fill="#c3c9f5"/>
<rect x="-10" y="90" width="10.3" height="10.3" fill="#c3c9f5"/>
<rect x="0" y="90" width="10.3" height="10.3" fill="#c3c9f5"/>
<rect x="10" y="90" width="10.3" height="10.3" fill="#9ea8ef"/>
<rect x="20" y="90" width="10.3" height="10.3" fill="#c3c9f5"/>
<rect x="30" y="90" width="10.3" height="10.3" fill="#c3c9f5"/>
<rect x="40" y="90" width="10.3" height="10.3" fill="#9ea8ef"/>
<rect x="50" y="90" width="10.3" height="10.3" fill="#c3c9f5"/>
<rect x="60" y="90" width="10.3" height="10.3" fill="#c3c9f5"/>
<rect x="70" y="90" width="10.3" height="10.3" fill="#c3c9f5"/>
<rect x="80" y="90" width="10.3" height="10.3" fill="#e3e3f7"/>
<rect x="90" y="90" width="10.3" height="10.3" fill="#f3dde3"/>
<rect x="100" y="90" width="10.3" height="10.3" fill="#e3e3f7"/>
<rect x="110" y="90" width="10.3" height="10.3" fill="#e3e3f7"/>
<rect x="120" y="90" width="10.3" height="10.3" fill="#e3e3f7"/>
<rect x="130" y="90" width="10.3" height="10.3" fill="#c3c9f5"/>
<rect x="140" y="90" width="10.3" height="10.3" fill="#c3c9f5"/>
<rect x="150" y="90" width="10.3" height="10.3" fill="#9ea8ef"/>
<rect x="160" y="90" width="10.3" height="10.3" fill="#9ea8ef"/>
<rect x="-10" y="100" width="10.3" height="10.3" fill="#9ea8ef"/>
<rect x="0" y="100" width="10.3" height="10.3" fill="#9ea8ef"/>
<rect x="10" y="100" width="10.3" height="10.3" fill="#9ea8ef"/>
<rect x="20" y="100" width="10.3" height="10.3" fill="#9ea8ef"/>
<rect x="30" y="100" width="10.3" height="10.3" fill="#c3c9f5"/>
<rect x="40" y="100" width="10.3" height="10.3" fill="#c3c9f5"/>
<rect x="50" y="100" width="10.3" height="10.3" fill="#c3c9f5"/>
<rect x="60" y="100" width="10.3" height="10.3" fill="#c3c9f5"/>
<rect x="70" y="100" width="10.3" height="10.3" fill="#c3c9f5"/>
<rect x="80" y="100" width="10.3" height="10.3" fill="#e3e3f7"/>
<rect x="90" y="100" width="10.3" height="10.3" fill="#e3e3f7"/>
<rect x="100" y="100" width="10.3" height="10.3" fill="#f3dde3"/>
<rect x="110" y="100" width="10.3" height="10.3" fill="#e3e3f7"/>
<rect x="120" y="100" width="10.3" height="10.3" fill="#e3e3f7"/>
<rect x="130" y="100" width="10.3" height="10.3" fill="#c3c9f5"/>
<rect x="140" y="100" width="10.3" height="10.3" fill="#9ea8ef"/>
<rect x="150" y="100" width="10.3" height="10.3" fill="#9ea8ef"/>
<rect x="160" y="100" width="10.3" height="10.3" fill="#9ea8ef"/>
<rect x="-10" y="110" width="10.3" height="10.3" fill="#9ea8ef"/>
<rect x="0" y="110" width="10.3" height="10.3" fill="#9ea8ef"/>
<rect x="10" y="110" width="10.3" height="10.3" fill="#9ea8ef"/>
<rect x="20" y="110" width="10.3" height="10.3" fill="#9ea8ef"/>
<rect x="30" y="110" width="10.3" height="10.3" fill="#c3c9f5"/>
<rect x="40" y="110" width="10.3" height="10.3" fill="#c3c9f5"/>
<rect x="50" y="110" width="10.3" height="10.3" fill="#e3e3f7"/>
<rect x="60" y="110" width="10.3" height="10.3" fill="#e3e3f7"/>
<rect x="70" y="110" width="10.3" height="10.3" fill="#c3c9f5"/>
<rect x="80" y="110" width="10.3" height="10.3" fill="#c3c9f5"/>
<rect x="90" y="110" width="10.3" height="10.3" fill="#e3e3f7"/>
<rect x="100" y="110" width="10.3" height="10.3" fill="#f2c2c8"/>
<rect x="110" y="110" width="10.3" height="10.3" fill="#f2c2c8"/>
<rect x="120" y="110" width="10.3" height="10.3" fill="#e3e3f7"/>
<rect x="130" y="110" width="10.3" height="10.3" fill="#c3c9f5"/>
<rect x="140" y="110" width="10.3" height="10.3" fill="#9ea8ef"/>
<rect x="150" y="110" width="10.3" height="10.3" fill="#9ea8ef"/>
<rect x="160" y="110" width="10.3" height="10.3" fill="#9ea8ef"/>
<rect x="-10" y="120" width="10.3" height="10.3" fill="#9ea8ef"/>
<rect x="0" y="120" width="10.3" height="10.3" fill="#9ea8ef"/>
<rect x="10" y="120" width="10.3" height="10.3" fill="#9ea8ef"/>
<rect x="20" y="120" width="10.3" height="10.3" fill="#9ea8ef"/>
<rect x="30" y="120" width="10.3" height="10.3" fill="#c3c9f5"/>
<rect x="40" y="120" width="10.3" height="10.3" fill="#c3c9f5"/>
<rect x="50" y="120" width="10.3" height="10.3" fill="#efe6ef"/>
<rect x="60" y="120" width="10.3" height="10.3" fill="#efe6ef"/>
<rect x="70" y="120" width="10.3" height="10.3" fill="#e3e3f7"/>
<rect x="80" y="120" width="10.3" height="10.3" fill="#c3c9f5"/>
<rect x="90" y="120" width="10.3" height="10.3" fill="#c3c9f5"/>
<rect x="100" y="120" width="10.3" height="10.3" fill="#e3e3f7"/>
<rect x="110" y="120" width="10.3" height="10.3" fill="#f2c2c8"/>
<rect x="120" y="120" width="10.3" height="10.3" fill="#f3dde3"/>
<rect x="130" y="120" width="10.3" height="10.3" fill="#e3e3f7"/>
<rect x="140" y="120" width="10.3" height="10.3" fill="#9ea8ef"/>
<rect x="150" y="120" width="10.3" height="10.3" fill="#9ea8ef"/>
<rect x="160" y="120" width="10.3" height="10.3" fill="#9ea8ef"/>
<rect x="-10" y="130" width="10.3" height="10.3" fill="#9ea8ef"/>
<rect x="0" y="130" width="10.3" height="10.3" fill="#9ea8ef"/>
<rect x="10" y="130" width="10.3" height="10.3" fill="#9ea8ef"/>
<rect x="20" y="130" width="10.3" height="10.3" fill="#c3c9f5"/>
<rect x="30" y="130" width="10.3" height="10.3" fill="#c3c9f5"/>
<rect x="40" y="130" width="10.3" height="10.3" fill="#c3c9f5"/>
<rect x="50" y="130" width="10.3" height="10.3" fill="#efe6ef"/>
<rect x="60" y="130" width="10.3" height="10.3" fill="#efe6ef"/>
<rect x="70" y="130" width="10.3" height="10.3" fill="#efe6ef"/>
<rect x="80" y="130" width="10.3" height="10.3" fill="#e3e3f7"/>
<rect x="90" y="130" width="10.3" height="10.3" fill="#c3c9f5"/>
<rect x="100" y="130" width="10.3" height="10.3" fill="#c3c9f5"/>
<rect x="110" y="130" width="10.3" height="10.3" fill="#e3e3f7"/>
<rect x="120" y="130" width="10.3" height="10.3" fill="#e3e3f7"/>
<rect x="130" y="130" width="10.3" height="10.3" fill="#f3dde3"/>
<rect x="140" y="130" width="10.3" height="10.3" fill="#c3c9f5"/>
<rect x="150" y="130" width="10.3" height="10.3" fill="#9ea8ef"/>
<rect x="160" y="130" width="10.3" height="10.3" fill="#9ea8ef"/>
<rect x="-10" y="140" width="10.3" height="10.3" fill="#c3c9f5"/>
<rect x="0" y="140" width="10.3" height="10.3" fill="#c3c9f5"/>
<rect x="10" y="140" width="10.3" height="10.3" fill="#9ea8ef"/>
<rect x="20" y="140" width="10.3" height="10.3" fill="#c3c9f5"/>
<rect x="30" y="140" width="10.3" height="10.3" fill="#c3c9f5"/>
<rect x="40" y="140" width="10.3" height="10.3" fill="#c3c9f5"/>
<rect x="50" y="140" width="10.3" height="10.3" fill="#efe6ef"/>
<rect x="60" y="140" width="10.3" height="10.3" fill="#efe6ef"/>
<rect x="70" y="140" width="10.3" height="10.3" fill="#e3e3f7"/>
<rect x="80" y="140" width="10.3" height="10.3" fill="#c3c9f5"/>
<rect x="90" y="140" width="10.3" height="10.3" fill="#9ea8ef"/>
<rect x="100" y="140" width="10.3" height="10.3" fill="#9ea8ef"/>
<rect x="110" y="140" width="10.3" height="10.3" fill="#9ea8ef"/>
<rect x="120" y="140" width="10.3" height="10.3" fill="#c3c9f5"/>
<rect x="130" y="140" width="10.3" height="10.3" fill="#e3e3f7"/>
<rect x="140" y="140" width="10.3" height="10.3" fill="#f3dde3"/>
<rect x="150" y="140" width="10.3" height="10.3" fill="#e3e3f7"/>
<rect x="160" y="140" width="10.3" height="10.3" fill="#e3e3f7"/>
<rect x="-10" y="150" width="10.3" height="10.3" fill="#f3dde3"/>
<rect x="0" y="150" width="10.3" height="10.3" fill="#f3dde3"/>
<rect x="10" y="150" width="10.3" height="10.3" fill="#c3c9f5"/>
<rect x="20" y="150" width="10.3" height="10.3" fill="#c3c9f5"/>
<rect x="30" y="150" width="10.3" height="10.3" fill="#c3c9f5"/>
<rect x="40" y="150" width="10.3" height="10.3" fill="#e3e3f7"/>
<rect x="50" y="150" width="10.3" height="10.3" fill="#efe6ef"/>
<rect x="60" y="150" width="10.3" height="10.3" fill="#e3e3f7"/>
<rect x="70" y="150" width="10.3" height="10.3" fill="#c3c9f5"/>
<rect x="80" y="150" width="10.3" height="10.3" fill="#c3c9f5"/>
<rect x="90" y="150" width="10.3" height="10.3" fill="#9ea8ef"/>
<rect x="100" y="150" width="10.3" height="10.3" fill="#9ea8ef"/>
<rect x="110" y="150" width="10.3" height="10.3" fill="#9ea8ef"/>
<rect x="120" y="150" width="10.3" height="10.3" fill="#c3c9f5"/>
<rect x="130" y="150" width="10.3" height="10.3" fill="#c3c9f5"/>
<rect x="140" y="150" width="10.3" height="10.3" fill="#e3e3f7"/>
<rect x="150" y="150" width="10.3" height="10.3" fill="#f3dde3"/>
<rect x="160" y="150" width="10.3" height="10.3" fill="#f3dde3"/>
<rect x="-10" y="160" width="10.3" height="10.3" fill="#f3dde3"/>
<rect x="0" y="160" width="10.3" height="10.3" fill="#f3dde3"/>
<rect x="10" y="160" width="10.3" height="10.3" fill="#c3c9f5"/>
<rect x="20" y="160" width="10.3" height="10.3" fill="#c3c9f5"/>
<rect x="30" y="160" width="10.3" height="10.3" fill="#c3c9f5"/>
<rect x="40" y="160" width="10.3" height="10.3" fill="#e3e3f7"/>
<rect x="50" y="160" width="10.3" height="10.3" fill="#efe6ef"/>
<rect x="60" y="160" width="10.3" height="10.3" fill="#e3e3f7"/>
<rect x="70" y="160" width="10.3" height="10.3" fill="#c3c9f5"/>
<rect x="80" y="160" width="10.3" height="10.3" fill="#c3c9f5"/>
<rect x="90" y="160" width="10.3" height="10.3" fill="#9ea8ef"/>
<rect x="100" y="160" width="10.3" height="10.3" fill="#9ea8ef"/>
<rect x="110" y="160" width="10.3" height="10.3" fill="#9ea8ef"/>
<rect x="120" y="160" width="10.3" height="10.3" fill="#c3c9f5"/>
<rect x="130" y="160" width="10.3" height="10.3" fill="#c3c9f5"/>
<rect x="140" y="160" width="10.3" height="10.3" fill="#e3e3f7"/>
<rect x="150" y="160" width="10.3" height="10.3" fill="#f3dde3"/>
<rect x="160" y="160" width="10.3" height="10.3" fill="#f3dde3"/>
</g>
<rect x="40" y="40" width="119.80000000000001" height="119.0" fill="url(#gBand)"/>
<g filter="url(#blur3)">
<rect x="63" y="63" width="9" height="9" fill="#f4b4b8" opacity="0.65"/>
<rect x="76" y="76" width="16" height="16" fill="#f4b4b8" opacity="0.55"/>
<rect x="94" y="94" width="15" height="15" fill="#f4b4b8" opacity="0.55"/>
<rect x="124" y="124" width="15" height="15" fill="#f4b4b8" opacity="0.6"/>
<rect x="141" y="141" width="15" height="15" fill="#f4b4b8" opacity="0.55"/>
<rect x="103" y="116" width="16" height="6" fill="#f4a8ac" opacity="0.75"/>
<rect x="115" y="103" width="6" height="16" fill="#f4a8ac" opacity="0.75"/>
<rect x="110" y="110" width="13" height="13" fill="#f4b0b4" opacity="0.6"/>
<circle cx="118" cy="119" r="4" fill="#f08c92" opacity="0.9"/>
</g>
<rect x="0" y="0" width="159.8" height="159.0" fill="#fff" filter="url(#nzB)" opacity="0.45"/>
<line x1="68" y1="0" x2="68" y2="159.0" stroke="#a8b0f0" stroke-width="0.6" opacity="0.6"/>
<line x1="0" y1="67.8" x2="159.8" y2="67.8" stroke="#a8b0f0" stroke-width="0.6" opacity="0.6"/>
<line x1="0" y1="0" x2="159.8" y2="159.0" stroke="#e66a6a" stroke-width="0.8"/>
<rect x="24.9" y="0" width="14.8" height="159.0" fill="#bfbfbf"/>
<rect x="0" y="24.6" width="159.8" height="15.3" fill="#bfbfbf"/>
<rect x="24.9" y="24.6" width="14.8" height="15.3" fill="#f6f2f6"/>
<rect x="25.2" y="34.5" width="5" height="2" fill="#b8bff2"/>
<rect x="36.8" y="25.0" width="2.4" height="3.5" fill="#c0c6f4"/>
<line x1="24.9" y1="24.6" x2="39.7" y2="39.9" stroke="#e66a6a" stroke-width="0.8"/>
<rect x="24.9" y="37.0" width="12.0" height="2.8" fill="url(#ibar1)"/>
<rect x="36.9" y="25.4" width="2.6" height="12.0" fill="url(#ibar2)"/>
<rect x="36.9" y="37.0" width="2.6" height="2.8" fill="#ff4040"/>
</g>
<text x="340.00" y="54.20" font-size="11" text-anchor="start" font-weight="normal" font-style="normal" fill="#1c1a1a" stroke="#1c1a1a" stroke-width="0.12" >Δ<tspan font-style="italic">smc</tspan>/KU216</text>
<text x="327.60" y="78.70" font-size="11" text-anchor="start" font-weight="normal" font-style="normal" fill="#1c1a1a" stroke="#1c1a1a" stroke-width="0.12" >Boundary 1</text>
<text x="393.40" y="158.20" font-size="11" text-anchor="start" font-weight="normal" font-style="normal" fill="#1c1a1a" stroke="#1c1a1a" stroke-width="0.12" >Boundary 2</text>
<text x="445.60" y="214.90" font-size="11.2" text-anchor="end" font-weight="normal" font-style="normal" fill="#1c1a1a" stroke="#1c1a1a" stroke-width="0.12" >5-kb res.</text>
<line x1="345.30" y1="82.60" x2="334.87" y2="93.24" stroke="#231f20" stroke-width="1.5" />
<polygon points="330.60,97.60 333.49,89.79 334.86,93.26 338.35,94.55" fill="#231f20"/>
<line x1="428.60" y1="164.10" x2="417.88" y2="174.96" stroke="#231f20" stroke-width="1.5" />
<polygon points="413.60,179.30 416.52,171.50 417.87,174.97 421.36,176.28" fill="#231f20"/>
<path d="M360.35,142.70 L360.35,138.00 M360.35,142.70 L364.82,141.25 M360.35,142.70 L355.88,141.25 M360.35,142.70 L363.11,146.50 M360.35,142.70 L357.59,146.50 " stroke="#000" stroke-width="2.1" fill="none"/>
<text x="121.00" y="271.20" font-size="9.9" text-anchor="middle" font-weight="normal" font-style="normal" fill="#1c1a1a" stroke="#1c1a1a" stroke-width="0.12" >Contact freq.</text>
<rect x="105.10" y="277.30" width="31.70" height="5.00" fill="url(#cbRed)" stroke="#000" stroke-width="1.4"/>
<line x1="105.10" y1="282.40" x2="105.10" y2="285.80" stroke="#000" stroke-width="1.4" />
<line x1="136.80" y1="282.40" x2="136.80" y2="285.80" stroke="#000" stroke-width="1.4" />
<text x="105.10" y="296.00" font-size="9.9" text-anchor="middle" font-weight="normal" font-style="normal" fill="#1c1a1a" stroke="#1c1a1a" stroke-width="0.12" >1</text>
<text x="136.80" y="296.00" font-size="9.9" text-anchor="middle" font-weight="normal" font-style="normal" fill="#1c1a1a" stroke="#1c1a1a" stroke-width="0.12" >4</text>
<rect x="358.80" y="277.20" width="31.30" height="4.70" fill="url(#cbBWR)" stroke="#000" stroke-width="1.4"/>
<line x1="358.70" y1="282.00" x2="358.70" y2="285.40" stroke="#000" stroke-width="1.4" />
<line x1="374.40" y1="282.00" x2="374.40" y2="285.40" stroke="#000" stroke-width="1.4" />
<line x1="390.20" y1="282.00" x2="390.20" y2="285.40" stroke="#000" stroke-width="1.4" />
<text x="358.70" y="295.70" font-size="9.9" text-anchor="middle" font-weight="normal" font-style="normal" fill="#1c1a1a" stroke="#1c1a1a" stroke-width="0.12" ></text>
<text x="374.40" y="295.70" font-size="9.9" text-anchor="middle" font-weight="normal" font-style="normal" fill="#1c1a1a" stroke="#1c1a1a" stroke-width="0.12" >0</text>
<text x="390.20" y="295.70" font-size="9.9" text-anchor="middle" font-weight="normal" font-style="normal" fill="#1c1a1a" stroke="#1c1a1a" stroke-width="0.12" >0.7</text>
<text x="364.90" y="295.70" font-size="9.9" text-anchor="end" font-weight="normal" font-style="normal" fill="#1c1a1a" stroke="#1c1a1a" stroke-width="0.12" >−0.7</text>
<text x="374.2" y="271.2" font-size="9.9" text-anchor="middle" fill="#1c1a1a" stroke="#1c1a1a" stroke-width="0.12">log<tspan font-size="7.2">2</tspan> ratio</text>
<rect x="563.8" y="23.6" width="82.70000000000005" height="82.4" fill="none" stroke="#231f20" stroke-width="1.3"/>
<line x1="559.00" y1="23.60" x2="563.80" y2="23.60" stroke="#231f20" stroke-width="1.1" />
<text x="555.20" y="26.30" font-size="9.9" text-anchor="end" font-weight="normal" font-style="normal" fill="#1c1a1a" stroke="#1c1a1a" stroke-width="0.12" >0.5</text>
<line x1="559.00" y1="44.20" x2="563.80" y2="44.20" stroke="#231f20" stroke-width="1.1" />
<text x="555.20" y="46.90" font-size="9.9" text-anchor="end" font-weight="normal" font-style="normal" fill="#1c1a1a" stroke="#1c1a1a" stroke-width="0.12" >0</text>
<line x1="559.00" y1="64.80" x2="563.80" y2="64.80" stroke="#231f20" stroke-width="1.1" />
<text x="555.20" y="67.50" font-size="9.9" text-anchor="end" font-weight="normal" font-style="normal" fill="#1c1a1a" stroke="#1c1a1a" stroke-width="0.12" >−0.5</text>
<line x1="559.00" y1="85.40" x2="563.80" y2="85.40" stroke="#231f20" stroke-width="1.1" />
<text x="555.20" y="88.10" font-size="9.9" text-anchor="end" font-weight="normal" font-style="normal" fill="#1c1a1a" stroke="#1c1a1a" stroke-width="0.12" >−1</text>
<line x1="559.00" y1="106.00" x2="563.80" y2="106.00" stroke="#231f20" stroke-width="1.1" />
<text x="555.20" y="108.70" font-size="9.9" text-anchor="end" font-weight="normal" font-style="normal" fill="#1c1a1a" stroke="#1c1a1a" stroke-width="0.12" >−1.5</text>
<line x1="563.80" y1="106.00" x2="563.80" y2="110.50" stroke="#231f20" stroke-width="1.1" />
<text x="563.80" y="121.30" font-size="9.9" text-anchor="middle" font-weight="normal" font-style="normal" fill="#1c1a1a" stroke="#1c1a1a" stroke-width="0.12" >−40</text>
<line x1="605.15" y1="106.00" x2="605.15" y2="110.50" stroke="#231f20" stroke-width="1.1" />
<text x="605.15" y="121.30" font-size="9.9" text-anchor="middle" font-weight="normal" font-style="normal" fill="#1c1a1a" stroke="#1c1a1a" stroke-width="0.12" >0</text>
<line x1="646.50" y1="106.00" x2="646.50" y2="110.50" stroke="#231f20" stroke-width="1.1" />
<text x="646.50" y="121.30" font-size="9.9" text-anchor="middle" font-weight="normal" font-style="normal" fill="#1c1a1a" stroke="#1c1a1a" stroke-width="0.12" >40</text>
<text x="605.10" y="134.60" font-size="9.9" text-anchor="middle" font-weight="normal" font-style="normal" fill="#1c1a1a" stroke="#1c1a1a" stroke-width="0.12" >Distance from boundary (kb)</text>
<text x="0" y="0" font-size="9.9" text-anchor="middle" fill="#1c1a1a" stroke="#1c1a1a" stroke-width="0.12" transform="translate(532.2,65.0) rotate(-90)">Insulation score</text>
<text x="604.90" y="33.50" font-size="9.3" text-anchor="middle" font-weight="normal" font-style="normal" fill="#1c1a1a" stroke="#1c1a1a" stroke-width="0.12" >Boundary 1</text>
<g clip-path="url(#clip1)">
<path d="M563.79,41.40 L567.97,42.15 L572.45,42.90 L576.93,44.09 L581.40,45.13 L585.88,46.18 L590.36,46.63 L594.84,47.07 L599.31,47.37 L602.30,47.67 L604.54,47.07 L606.78,43.64 L609.01,41.40 L612.75,40.66 L617.22,40.66 L621.70,41.10 L624.69,42.15 L627.67,43.64 L630.66,46.63 L633.64,50.36 L636.63,54.84 L638.87,59.31 L641.10,62.30 L643.34,63.49 L646.48,63.49" fill="none" stroke="#fbb040" stroke-width="1.8" stroke-dasharray="3,1.4" stroke-linejoin="round"/>
<path d="M563.79,38.57 L567.97,40.36 L572.45,41.55 L576.93,42.75 L581.40,43.79 L585.88,44.54 L590.36,45.28 L594.84,45.73 L599.31,46.03 L602.30,46.78 L604.54,46.03 L606.03,43.04 L607.52,41.25 L609.76,40.81 L612.75,40.81 L615.73,41.25 L618.72,42.30 L621.70,43.79 L624.69,46.78 L627.67,51.25 L630.66,56.48 L632.90,60.96 L634.39,65.43 L635.88,69.91 L637.37,75.13 L638.42,79.46 L639.91,86.18 L641.40,92.15 L643.34,93.34 L646.48,93.34" fill="none" stroke="#8dc63f" stroke-width="1.8" stroke-dasharray="3,1.4" stroke-linejoin="round"/>
<path d="M563.79,38.42 L567.97,40.21 L572.45,41.40 L576.93,42.60 L581.40,43.64 L585.88,44.39 L590.36,45.13 L594.84,45.58 L599.31,45.88 L602.30,46.63 L604.54,45.88 L606.03,42.90 L607.52,41.10 L609.76,40.66 L612.75,40.66 L615.73,41.10 L618.72,42.15 L621.70,43.64 L624.69,46.63 L627.67,51.10 L630.66,56.33 L632.90,60.81 L634.39,65.28 L635.88,69.76 L637.37,74.99 L638.42,79.46 L639.61,84.69 L641.10,90.66 L642.60,93.64 L646.48,93.64" fill="none" stroke="#ff0000" stroke-width="1.8" stroke-dasharray="3,1.4" stroke-linejoin="round"/>
<path d="M563.79,38.72 L567.97,40.51 L572.45,41.70 L576.93,42.90 L581.40,43.94 L585.88,44.69 L590.36,45.43 L594.84,45.88 L599.31,46.18 L602.30,46.93 L604.54,46.18 L606.03,43.19 L607.52,41.40 L609.76,40.96 L612.75,40.96 L615.73,41.40 L618.72,42.45 L621.70,43.94 L624.69,46.93 L627.67,51.40 L630.66,56.63 L632.90,61.10 L634.39,65.58 L635.88,70.06 L637.37,75.28 L638.12,78.72 L639.16,86.18 L640.36,95.13 L641.40,102.60 L642.60,104.84 L646.48,105.28" fill="none" stroke="#1f3cff" stroke-width="1.8" stroke-dasharray="3,1.4" stroke-linejoin="round"/>
<path d="M563.79,38.12 L567.97,39.91 L572.45,41.10 L576.93,42.30 L581.40,43.34 L585.88,44.09 L590.36,44.84 L594.84,45.28 L599.31,45.58 L602.30,46.33 L604.54,45.58 L606.03,42.60 L607.52,40.81 L609.76,40.36 L612.75,40.36 L615.73,40.81 L618.72,41.85 L621.70,43.34 L624.69,46.33 L627.67,50.81 L630.66,56.03 L632.90,60.51 L634.39,64.99 L635.88,69.46 L637.37,74.69 L638.42,80.21 L639.91,87.67 L641.40,95.13 L643.34,97.37 L646.48,98.12" fill="none" stroke="#27c4f4" stroke-width="1.8" stroke-dasharray="3,1.4" stroke-linejoin="round"/>
<path d="M563.79,35.43 L566.48,36.93 L569.46,39.16 L572.45,41.40 L575.43,43.64 L578.42,45.88 L581.40,48.87 L584.39,52.60 L587.37,56.33 L590.36,60.81 L593.34,65.28 L596.33,69.76 L599.31,74.99 L602.30,80.21 L604.54,84.69 L606.03,83.94 L607.52,79.46 L609.76,74.24 L612.75,68.27 L615.73,63.04 L618.72,59.31 L621.70,57.07 L624.69,56.03 L627.67,57.07 L630.66,60.06 L633.64,64.54 L635.88,68.27 L637.37,71.25 L638.87,74.24 L640.36,78.72 L641.85,80.21 L644.09,80.21 L646.48,80.21" fill="none" stroke="#231f20" stroke-width="1.5"  stroke-linejoin="round"/>
</g>
<rect x="563.8" y="150.4" width="82.70000000000005" height="82.69999999999999" fill="none" stroke="#231f20" stroke-width="1.3"/>
<line x1="559.00" y1="150.40" x2="563.80" y2="150.40" stroke="#231f20" stroke-width="1.1" />
<text x="555.20" y="153.10" font-size="9.9" text-anchor="end" font-weight="normal" font-style="normal" fill="#1c1a1a" stroke="#1c1a1a" stroke-width="0.12" >0.3</text>
<line x1="559.00" y1="191.75" x2="563.80" y2="191.75" stroke="#231f20" stroke-width="1.1" />
<text x="555.20" y="194.45" font-size="9.9" text-anchor="end" font-weight="normal" font-style="normal" fill="#1c1a1a" stroke="#1c1a1a" stroke-width="0.12" >0</text>
<line x1="559.00" y1="233.10" x2="563.80" y2="233.10" stroke="#231f20" stroke-width="1.1" />
<text x="555.20" y="235.80" font-size="9.9" text-anchor="end" font-weight="normal" font-style="normal" fill="#1c1a1a" stroke="#1c1a1a" stroke-width="0.12" >−0.3</text>
<line x1="563.80" y1="233.10" x2="563.80" y2="237.60" stroke="#231f20" stroke-width="1.1" />
<text x="563.80" y="247.90" font-size="9.9" text-anchor="middle" font-weight="normal" font-style="normal" fill="#1c1a1a" stroke="#1c1a1a" stroke-width="0.12" >−100</text>
<line x1="605.15" y1="233.10" x2="605.15" y2="237.60" stroke="#231f20" stroke-width="1.1" />
<text x="605.15" y="247.90" font-size="9.9" text-anchor="middle" font-weight="normal" font-style="normal" fill="#1c1a1a" stroke="#1c1a1a" stroke-width="0.12" >0</text>
<line x1="646.50" y1="233.10" x2="646.50" y2="237.60" stroke="#231f20" stroke-width="1.1" />
<text x="646.50" y="247.90" font-size="9.9" text-anchor="middle" font-weight="normal" font-style="normal" fill="#1c1a1a" stroke="#1c1a1a" stroke-width="0.12" >100</text>
<text x="605.10" y="260.40" font-size="9.9" text-anchor="middle" font-weight="normal" font-style="normal" fill="#1c1a1a" stroke="#1c1a1a" stroke-width="0.12" >Distance from boundary (kb)</text>
<text x="0" y="0" font-size="9.9" text-anchor="middle" fill="#1c1a1a" stroke="#1c1a1a" stroke-width="0.12" transform="translate(532.2,192.0) rotate(-90)">Insulation score</text>
<text x="604.90" y="160.30" font-size="9.3" text-anchor="middle" font-weight="normal" font-style="normal" fill="#1c1a1a" stroke="#1c1a1a" stroke-width="0.12" >Boundary 2</text>
<g clip-path="url(#clip2)">
<path d="M563.56,187.09 L564.60,188.89 L566.56,191.43 L568.51,194.98 L569.81,193.85 L571.77,191.21 L573.72,189.40 L575.67,186.24 L577.62,182.50 L579.58,179.20 L581.53,176.51 L583.48,174.28 L585.44,175.81 L587.39,174.63 L589.34,175.59 L591.30,178.38 L593.25,179.99 L595.20,182.45 L597.16,183.72 L599.11,184.41 L601.06,189.62 L603.02,193.88 L604.97,196.77 L606.92,198.98 L608.88,200.17 L610.83,200.96 L612.78,200.03 L614.73,196.26 L616.69,193.81 L618.64,191.90 L620.59,190.41 L622.55,189.76 L624.50,189.75 L626.45,189.92 L628.41,189.54 L630.36,188.96 L632.31,189.53 L634.27,189.34 L636.22,190.05 L638.17,190.38 L640.12,191.59 L642.08,192.15 L644.03,190.98 L645.46,191.00 L646.90,190.99" fill="none" stroke="#fbb040" stroke-width="1.8" stroke-dasharray="3,1.4" stroke-linejoin="round"/>
<path d="M563.56,185.71 L564.60,186.36 L565.91,187.68 L567.21,189.66 L569.16,192.14 L571.11,190.11 L572.42,189.09 L573.72,187.86 L575.02,186.12 L576.32,184.16 L577.62,181.87 L578.93,179.29 L580.23,177.53 L581.53,175.55 L583.48,173.18 L585.44,174.67 L587.39,175.94 L589.34,176.31 L591.30,178.19 L593.25,180.67 L595.20,182.46 L597.16,184.41 L599.11,187.97 L601.06,191.12 L603.02,194.42 L604.97,193.48 L606.27,192.57 L607.57,197.80 L609.53,198.88 L611.48,198.08 L613.43,196.34 L615.39,194.25 L617.34,192.56 L619.29,190.95 L621.24,189.42 L623.20,189.73 L625.15,189.96 L627.10,189.50 L629.06,189.85 L631.01,189.19 L632.96,188.83 L634.92,189.50 L636.87,189.85 L638.82,190.94 L640.78,191.57 L642.73,191.01 L644.12,191.43 L645.51,191.40 L646.90,191.25" fill="none" stroke="#8dc63f" stroke-width="1.8" stroke-dasharray="3,1.4" stroke-linejoin="round"/>
<path d="M563.56,182.21 L564.60,183.47 L565.91,185.30 L567.86,186.77 L569.81,184.83 L571.77,182.48 L573.72,180.49 L575.67,177.81 L577.62,174.15 L579.58,171.53 L581.53,169.46 L583.48,165.84 L585.44,167.40 L587.39,168.45 L588.69,167.26 L589.99,168.87 L591.30,171.81 L592.60,174.58 L593.90,176.94 L595.20,179.70 L596.51,181.60 L597.81,182.48 L599.11,184.92 L600.41,187.41 L601.71,191.11 L603.02,194.83 L604.32,198.67 L605.62,200.35 L607.57,202.47 L609.53,203.23 L611.48,203.12 L613.43,201.96 L614.73,198.34 L616.04,196.02 L617.34,193.16 L618.64,191.55 L619.94,189.56 L621.24,187.71 L622.55,188.39 L623.85,189.10 L625.15,188.97 L626.45,187.95 L627.76,188.73 L629.06,188.25 L630.36,188.00 L631.66,187.26 L632.96,186.59 L634.27,187.40 L635.57,188.05 L636.87,189.58 L638.17,190.08 L639.47,190.90 L640.78,191.24 L642.73,191.59 L644.03,191.37 L645.33,191.01 L646.90,190.99" fill="none" stroke="#ff0000" stroke-width="1.8" stroke-dasharray="3,1.4" stroke-linejoin="round"/>
<path d="M563.56,183.90 L564.60,184.46 L566.56,187.27 L568.51,189.71 L569.81,190.95 L571.77,189.88 L573.72,188.94 L575.67,186.25 L577.62,183.62 L579.58,180.64 L581.53,178.91 L583.48,177.42 L585.44,178.00 L587.39,179.26 L589.34,178.68 L591.30,181.13 L593.25,182.37 L595.20,184.30 L597.16,186.90 L599.11,189.73 L601.06,193.72 L603.02,197.85 L604.32,199.88 L606.27,201.26 L608.22,201.93 L610.18,201.38 L612.13,200.44 L614.08,197.88 L616.04,195.16 L617.99,192.33 L619.94,191.23 L621.90,189.66 L623.85,190.90 L625.80,191.51 L627.76,190.63 L629.71,189.81 L631.66,189.58 L633.61,188.70 L635.57,190.22 L637.52,190.84 L639.47,191.26 L641.43,192.49 L643.38,191.97 L645.33,191.20 L646.90,191.25" fill="none" stroke="#1f3cff" stroke-width="1.8" stroke-dasharray="3,1.4" stroke-linejoin="round"/>
<path d="M563.56,184.83 L564.60,185.56 L566.56,188.85 L568.51,191.56 L569.81,192.07 L571.77,190.89 L573.72,188.97 L575.67,187.32 L577.62,184.40 L579.58,181.59 L581.53,179.81 L583.48,176.66 L585.44,178.86 L587.39,180.66 L589.34,179.56 L591.30,182.84 L593.25,185.05 L595.20,187.80 L596.51,187.19 L597.81,189.59 L599.76,192.09 L601.71,194.92 L603.67,199.27 L605.62,201.41 L607.57,202.40 L609.53,202.45 L611.48,201.32 L613.43,199.32 L615.39,196.25 L617.34,193.66 L619.29,192.24 L621.24,191.51 L623.20,191.75 L625.15,192.88 L627.10,191.93 L629.06,191.37 L631.01,191.04 L632.96,190.91 L634.92,191.38 L636.87,192.23 L638.82,192.18 L640.78,192.41 L642.73,191.80 L644.68,191.02 L646.90,191.25" fill="none" stroke="#27c4f4" stroke-width="1.8" stroke-dasharray="3,1.4" stroke-linejoin="round"/>
<path d="M563.56,182.57 L564.60,182.98 L566.56,183.43 L568.51,183.29 L570.46,181.84 L572.42,180.93 L574.37,179.51 L576.32,178.39 L578.28,177.50 L580.23,178.39 L582.18,178.74 L583.48,179.71 L584.79,182.92 L586.09,187.94 L587.39,189.32 L588.69,190.06 L589.99,191.72 L591.30,193.89 L592.60,196.64 L593.90,201.53 L595.20,210.31 L596.51,211.54 L598.46,212.29 L599.76,214.59 L601.06,218.35 L602.36,221.38 L603.67,223.98 L604.71,227.02 L605.62,223.56 L606.92,221.02 L608.22,217.37 L609.53,213.26 L610.83,210.40 L612.13,206.93 L613.43,203.44 L614.73,200.46 L616.04,197.68 L617.34,194.76 L618.64,190.84 L619.94,186.70 L621.24,185.09 L622.55,185.51 L623.85,184.92 L625.15,185.68 L626.45,184.46 L627.76,184.01 L629.06,183.50 L630.36,183.06 L631.66,182.84 L632.96,181.89 L634.27,183.67 L635.57,184.10 L636.87,184.51 L638.17,185.49 L639.47,186.58 L640.78,188.46 L642.08,189.94 L643.38,190.38 L645.33,191.08 L646.90,191.25" fill="none" stroke="#231f20" stroke-width="1.5"  stroke-linejoin="round"/>
</g>
<text x="600.60" y="7.00" font-size="9.2" text-anchor="start" font-weight="normal" font-style="normal" fill="#1c1a1a" stroke="#1c1a1a" stroke-width="0.12" >Inversion breakpoint</text>
<line x1="642.00" y1="10.00" x2="642.00" y2="20.60" stroke="#000" stroke-width="1.0" />
<polyline points="639.2,17.2 642.0,20.8 644.8,17.2" fill="none" stroke="#000" stroke-width="1.0"/>
<line x1="535.30" y1="276.60" x2="546.80" y2="276.60" stroke="#231f20" stroke-width="1.8" />
<text x="551.70" y="280.00" font-size="9.9" text-anchor="start" font-weight="normal" font-style="normal" fill="#1c1a1a" stroke="#1c1a1a" stroke-width="0.12" >KU216</text>
<line x1="535.30" y1="291.00" x2="538.20" y2="291.00" stroke="#ff0000" stroke-width="1.8" />
<line x1="539.50" y1="291.00" x2="542.40" y2="291.00" stroke="#ff0000" stroke-width="1.8" />
<line x1="543.70" y1="291.00" x2="546.60" y2="291.00" stroke="#ff0000" stroke-width="1.8" />
<text x="551.70" y="294.40" font-size="9.9" text-anchor="start" font-weight="normal" font-style="normal" fill="#1c1a1a" stroke="#1c1a1a" stroke-width="0.12" >Δ<tspan font-style="italic">smc</tspan></text>
<line x1="535.30" y1="304.80" x2="538.20" y2="304.80" stroke="#8dc63f" stroke-width="1.8" />
<line x1="539.50" y1="304.80" x2="542.40" y2="304.80" stroke="#8dc63f" stroke-width="1.8" />
<line x1="543.70" y1="304.80" x2="546.60" y2="304.80" stroke="#8dc63f" stroke-width="1.8" />
<text x="551.70" y="308.20" font-size="9.9" text-anchor="start" font-weight="normal" font-style="normal" fill="#1c1a1a" stroke="#1c1a1a" stroke-width="0.12" >Δ<tspan font-style="italic">scpA</tspan></text>
<line x1="596.00" y1="276.60" x2="598.90" y2="276.60" stroke="#1f3cff" stroke-width="1.8" />
<line x1="600.20" y1="276.60" x2="603.10" y2="276.60" stroke="#1f3cff" stroke-width="1.8" />
<line x1="604.40" y1="276.60" x2="607.30" y2="276.60" stroke="#1f3cff" stroke-width="1.8" />
<text x="612.40" y="280.00" font-size="9.9" text-anchor="start" font-weight="normal" font-style="normal" fill="#1c1a1a" stroke="#1c1a1a" stroke-width="0.12" >Δ<tspan font-style="italic">scpB</tspan></text>
<line x1="596.00" y1="291.00" x2="598.90" y2="291.00" stroke="#fbb040" stroke-width="1.8" />
<line x1="600.20" y1="291.00" x2="603.10" y2="291.00" stroke="#fbb040" stroke-width="1.8" />
<line x1="604.40" y1="291.00" x2="607.30" y2="291.00" stroke="#fbb040" stroke-width="1.8" />
<text x="612.40" y="294.40" font-size="9.9" text-anchor="start" font-weight="normal" font-style="normal" fill="#1c1a1a" stroke="#1c1a1a" stroke-width="0.12" >Δ<tspan font-style="italic">smc</tspan> Δ<tspan font-style="italic">scpA</tspan></text>
<line x1="596.00" y1="304.80" x2="598.90" y2="304.80" stroke="#27c4f4" stroke-width="1.8" />
<line x1="600.20" y1="304.80" x2="603.10" y2="304.80" stroke="#27c4f4" stroke-width="1.8" />
<line x1="604.40" y1="304.80" x2="607.30" y2="304.80" stroke="#27c4f4" stroke-width="1.8" />
<text x="612.40" y="308.20" font-size="9.9" text-anchor="start" font-weight="normal" font-style="normal" fill="#1c1a1a" stroke="#1c1a1a" stroke-width="0.12" >Δ<tspan font-style="italic">smc</tspan> Δ<tspan font-style="italic">scpB</tspan></text>
<g transform="translate(95.20,358.00)">
<rect x="0" y="0" width="82.7" height="82.4" fill="#c0c0c0"/>
<g clip-path="url(#cclip0)">
<rect x="0" y="0" width="78.0" height="77.8" fill="#ff0000"/>
<g filter="url(#spk0)"><g filter="url(#cb0)">
<rect x="41.8" y="-10" width="46.2" height="51.0" fill="url(#cr0a)"/>
<rect x="-10" y="41.8" width="51.0" height="46.0" fill="url(#cr0b)"/>
</g></g>
<line x1="0" y1="0" x2="76.1" y2="76.2" stroke="#d2bcbc" stroke-width="0.9"/>
<polyline points="0,76.2 76.1,76.2 76.1,0" fill="none" stroke="#e6d8d8" stroke-width="0.8"/>
<rect x="76.1" y="76.2" width="2" height="2" fill="#c0c0c0"/>
</g>
</g>
<g transform="translate(95.20,478.30)" clip-path="url(#dclip0)">
<rect x="0" y="0" width="82.8" height="82.2" fill="#ffe9e9"/>
<g filter="url(#dspk0)">
<polygon points="11.6,-31.6 13.3,-29.9 15.1,-28.1 16.8,-26.4 18.6,-24.6 20.3,-22.9 22.1,-21.1 23.7,-19.3 25.4,-17.5 27.1,-15.7 28.8,-13.8 30.4,-12.0 32.1,-10.2 33.8,-8.4 35.5,-6.6 37.1,-4.8 38.8,-3.0 40.5,-1.1 42.2,0.7 43.9,2.5 45.5,4.3 47.2,6.1 48.9,7.9 50.6,9.7 52.3,11.5 53.9,13.3 55.6,15.1 57.3,17.0 59.0,18.8 60.7,20.6 62.4,22.4 64.2,24.0 66.0,25.7 67.8,27.4 69.7,29.1 71.5,30.7 73.3,32.4 75.1,34.1 76.9,35.8 78.7,37.4 80.5,39.1 82.4,40.8 84.2,42.4 86.1,44.0 88.0,45.6 89.9,47.3 91.7,48.9 93.6,50.5 95.5,52.1 97.4,53.7 99.3,55.3 101.1,56.9 103.0,58.5 104.9,60.2 106.7,61.9 108.4,63.6 110.2,65.4 111.9,67.1 113.7,68.9 115.4,70.6 70.6,115.4 68.9,113.7 67.1,111.9 65.4,110.2 63.6,108.4 61.9,106.7 60.2,104.9 58.5,103.0 56.9,101.1 55.3,99.3 53.7,97.4 52.1,95.5 50.5,93.6 48.9,91.7 47.3,89.9 45.6,88.0 44.0,86.1 42.4,84.2 40.8,82.4 39.1,80.5 37.4,78.7 35.8,76.9 34.1,75.1 32.4,73.3 30.7,71.5 29.1,69.7 27.4,67.8 25.7,66.0 24.0,64.2 22.4,62.4 20.6,60.7 18.8,59.0 17.0,57.3 15.1,55.6 13.3,53.9 11.5,52.3 9.7,50.6 7.9,48.9 6.1,47.2 4.3,45.5 2.5,43.9 0.7,42.2 -1.1,40.5 -3.0,38.8 -4.8,37.1 -6.6,35.5 -8.4,33.8 -10.2,32.1 -12.0,30.4 -13.8,28.8 -15.7,27.1 -17.5,25.4 -19.3,23.7 -21.1,22.1 -22.9,20.3 -24.6,18.6 -26.4,16.8 -28.1,15.1 -29.9,13.3 -31.6,11.6" fill="#ffacac" opacity="0.7" filter="url(#dh0)"/>
<polygon points="4.6,-24.6 6.3,-22.9 8.1,-21.1 9.8,-19.4 11.6,-17.6 13.3,-15.9 15.1,-14.1 16.7,-12.3 18.4,-10.5 20.1,-8.7 21.8,-6.8 23.4,-5.0 25.1,-3.2 26.8,-1.4 28.5,0.4 30.1,2.2 31.8,4.0 33.5,5.9 35.2,7.7 36.9,9.5 38.5,11.3 40.2,13.1 41.9,14.9 43.6,16.7 45.3,18.5 46.9,20.3 48.6,22.1 50.3,24.0 52.0,25.8 53.7,27.6 55.4,29.4 57.2,31.0 59.0,32.7 60.8,34.4 62.7,36.1 64.5,37.7 66.3,39.4 68.1,41.1 69.9,42.8 71.7,44.4 73.5,46.1 75.4,47.8 77.2,49.4 79.1,51.0 81.0,52.6 82.9,54.3 84.7,55.9 86.6,57.5 88.5,59.1 90.4,60.7 92.3,62.3 94.1,63.9 96.0,65.5 97.9,67.2 99.7,68.9 101.4,70.6 103.2,72.4 104.9,74.1 106.7,75.9 108.4,77.6 77.6,108.4 75.9,106.7 74.1,104.9 72.4,103.2 70.6,101.4 68.9,99.7 67.2,97.9 65.5,96.0 63.9,94.1 62.3,92.3 60.7,90.4 59.1,88.5 57.5,86.6 55.9,84.7 54.3,82.9 52.6,81.0 51.0,79.1 49.4,77.2 47.8,75.4 46.1,73.5 44.4,71.7 42.8,69.9 41.1,68.1 39.4,66.3 37.7,64.5 36.1,62.7 34.4,60.8 32.7,59.0 31.0,57.2 29.4,55.4 27.6,53.7 25.8,52.0 24.0,50.3 22.1,48.6 20.3,46.9 18.5,45.3 16.7,43.6 14.9,41.9 13.1,40.2 11.3,38.5 9.5,36.9 7.7,35.2 5.9,33.5 4.0,31.8 2.2,30.1 0.4,28.5 -1.4,26.8 -3.2,25.1 -5.0,23.4 -6.8,21.8 -8.7,20.1 -10.5,18.4 -12.3,16.7 -14.1,15.1 -15.9,13.3 -17.6,11.6 -19.4,9.8 -21.1,8.1 -22.9,6.3 -24.6,4.6" fill="#ff3030" opacity="0.75" filter="url(#dh0)"/>
</g>
<polygon points="-0.4,-19.6 1.3,-17.9 3.1,-16.1 4.8,-14.4 6.6,-12.6 8.3,-10.9 10.1,-9.1 11.7,-7.3 13.4,-5.5 15.1,-3.7 16.8,-1.8 18.4,-0.0 20.1,1.8 21.8,3.6 23.5,5.4 25.1,7.2 26.8,9.0 28.5,10.9 30.2,12.7 31.9,14.5 33.5,16.3 35.2,18.1 36.9,19.9 38.6,21.7 40.3,23.5 41.9,25.3 43.6,27.1 45.3,29.0 47.0,30.8 48.7,32.6 50.4,34.4 52.2,36.0 54.0,37.7 55.8,39.4 57.7,41.1 59.5,42.7 61.3,44.4 63.1,46.1 64.9,47.8 66.7,49.4 68.5,51.1 70.4,52.8 72.2,54.4 74.1,56.0 76.0,57.6 77.9,59.3 79.7,60.9 81.6,62.5 83.5,64.1 85.4,65.7 87.3,67.3 89.1,68.9 91.0,70.5 92.9,72.2 94.7,73.9 96.4,75.6 98.2,77.4 99.9,79.1 101.7,80.9 103.4,82.6 82.6,103.4 80.9,101.7 79.1,99.9 77.4,98.2 75.6,96.4 73.9,94.7 72.2,92.9 70.5,91.0 68.9,89.1 67.3,87.3 65.7,85.4 64.1,83.5 62.5,81.6 60.9,79.7 59.3,77.9 57.6,76.0 56.0,74.1 54.4,72.2 52.8,70.4 51.1,68.5 49.4,66.7 47.8,64.9 46.1,63.1 44.4,61.3 42.7,59.5 41.1,57.7 39.4,55.8 37.7,54.0 36.0,52.2 34.4,50.4 32.6,48.7 30.8,47.0 29.0,45.3 27.1,43.6 25.3,41.9 23.5,40.3 21.7,38.6 19.9,36.9 18.1,35.2 16.3,33.5 14.5,31.9 12.7,30.2 10.9,28.5 9.0,26.8 7.2,25.1 5.4,23.5 3.6,21.8 1.8,20.1 -0.0,18.4 -1.8,16.8 -3.7,15.1 -5.5,13.4 -7.3,11.7 -9.1,10.1 -10.9,8.3 -12.6,6.6 -14.4,4.8 -16.1,3.1 -17.9,1.3 -19.6,-0.4" fill="#ff0000" filter="url(#db0)"/>
<line x1="0" y1="0" x2="82.8" y2="82.2" stroke="#f0a8a8" stroke-width="0.7"/>
</g>
<g transform="translate(196.58,358.00)">
<rect x="0" y="0" width="82.7" height="82.4" fill="#c0c0c0"/>
<g clip-path="url(#cclip1)">
<rect x="0" y="0" width="78.0" height="77.8" fill="#ff0000"/>
<g filter="url(#spk1)"><g filter="url(#cb1)">
<rect x="43.0" y="-10" width="45.0" height="49.5" fill="url(#cr1a)"/>
<rect x="-10" y="43.0" width="49.5" height="44.8" fill="url(#cr1b)"/>
</g></g>
<line x1="0" y1="0" x2="78.0" y2="77.8" stroke="#d2bcbc" stroke-width="0.9"/>
</g>
</g>
<g transform="translate(196.58,478.30)" clip-path="url(#dclip1)">
<rect x="0" y="0" width="82.8" height="82.2" fill="#ffe9e9"/>
<g filter="url(#dspk1)">
<polygon points="13.2,-33.2 14.9,-31.5 16.7,-29.7 18.4,-28.0 20.2,-26.2 21.9,-24.5 23.7,-22.7 25.3,-20.9 27.0,-19.1 28.7,-17.3 30.4,-15.4 32.0,-13.6 33.7,-11.8 35.4,-10.0 37.1,-8.2 38.7,-6.4 40.4,-4.6 42.1,-2.7 43.7,-0.9 45.3,1.0 46.9,2.9 48.5,4.8 50.1,6.7 51.7,8.6 53.3,10.5 54.9,12.4 56.5,14.2 58.1,16.1 59.7,18.0 61.3,19.9 63.0,21.7 65.0,23.3 66.9,24.8 68.8,26.4 70.8,27.9 72.7,29.5 74.6,31.1 76.6,32.6 78.5,34.2 80.5,35.7 82.4,37.3 84.3,38.8 86.2,40.4 88.1,42.0 90.0,43.6 91.9,45.3 93.7,46.9 95.6,48.5 97.5,50.1 99.4,51.7 101.3,53.3 103.1,54.9 105.0,56.5 106.9,58.2 108.7,59.9 110.4,61.6 112.2,63.4 113.9,65.1 115.7,66.9 117.4,68.6 68.6,117.4 66.9,115.7 65.1,113.9 63.4,112.2 61.6,110.4 59.9,108.7 58.2,106.9 56.5,105.0 54.9,103.1 53.3,101.3 51.7,99.4 50.1,97.5 48.5,95.6 46.9,93.7 45.3,91.9 43.6,90.0 42.0,88.1 40.4,86.2 38.8,84.3 37.3,82.4 35.7,80.5 34.2,78.5 32.6,76.6 31.1,74.6 29.5,72.7 27.9,70.8 26.4,68.8 24.8,66.9 23.3,65.0 21.7,63.0 19.9,61.3 18.0,59.7 16.1,58.1 14.2,56.5 12.4,54.9 10.5,53.3 8.6,51.7 6.7,50.1 4.8,48.5 2.9,46.9 1.0,45.3 -0.9,43.7 -2.7,42.1 -4.6,40.4 -6.4,38.7 -8.2,37.1 -10.0,35.4 -11.8,33.7 -13.6,32.0 -15.4,30.4 -17.3,28.7 -19.1,27.0 -20.9,25.3 -22.7,23.7 -24.5,21.9 -26.2,20.2 -28.0,18.4 -29.7,16.7 -31.5,14.9 -33.2,13.2" fill="#ffacac" opacity="0.7" filter="url(#dh1)"/>
<polygon points="6.2,-26.2 7.9,-24.5 9.7,-22.7 11.4,-21.0 13.2,-19.2 14.9,-17.5 16.7,-15.7 18.3,-13.9 20.0,-12.1 21.7,-10.3 23.4,-8.4 25.0,-6.6 26.7,-4.8 28.4,-3.0 30.1,-1.2 31.7,0.6 33.4,2.4 35.1,4.3 36.7,6.1 38.3,8.0 39.9,9.9 41.5,11.8 43.1,13.7 44.7,15.6 46.3,17.5 47.9,19.4 49.5,21.2 51.1,23.1 52.7,25.0 54.3,26.9 56.0,28.7 58.0,30.3 59.9,31.8 61.8,33.4 63.8,34.9 65.7,36.5 67.6,38.1 69.6,39.6 71.5,41.2 73.5,42.7 75.4,44.3 77.3,45.8 79.2,47.4 81.1,49.0 83.0,50.6 84.9,52.3 86.7,53.9 88.6,55.5 90.5,57.1 92.4,58.7 94.3,60.3 96.1,61.9 98.0,63.5 99.9,65.2 101.7,66.9 103.4,68.6 105.2,70.4 106.9,72.1 108.7,73.9 110.4,75.6 75.6,110.4 73.9,108.7 72.1,106.9 70.4,105.2 68.6,103.4 66.9,101.7 65.2,99.9 63.5,98.0 61.9,96.1 60.3,94.3 58.7,92.4 57.1,90.5 55.5,88.6 53.9,86.7 52.3,84.9 50.6,83.0 49.0,81.1 47.4,79.2 45.8,77.3 44.3,75.4 42.7,73.5 41.2,71.5 39.6,69.6 38.1,67.6 36.5,65.7 34.9,63.8 33.4,61.8 31.8,59.9 30.3,58.0 28.7,56.0 26.9,54.3 25.0,52.7 23.1,51.1 21.2,49.5 19.4,47.9 17.5,46.3 15.6,44.7 13.7,43.1 11.8,41.5 9.9,39.9 8.0,38.3 6.1,36.7 4.3,35.1 2.4,33.4 0.6,31.7 -1.2,30.1 -3.0,28.4 -4.8,26.7 -6.6,25.0 -8.4,23.4 -10.3,21.7 -12.1,20.0 -13.9,18.3 -15.7,16.7 -17.5,14.9 -19.2,13.2 -21.0,11.4 -22.7,9.7 -24.5,7.9 -26.2,6.2" fill="#ff3030" opacity="0.75" filter="url(#dh1)"/>
</g>
<polygon points="1.2,-21.2 2.9,-19.5 4.7,-17.7 6.4,-16.0 8.2,-14.2 9.9,-12.5 11.7,-10.7 13.3,-8.9 15.0,-7.1 16.7,-5.3 18.4,-3.4 20.0,-1.6 21.7,0.2 23.4,2.0 25.1,3.8 26.7,5.6 28.4,7.4 30.1,9.3 31.7,11.1 33.3,13.0 34.9,14.9 36.5,16.8 38.1,18.7 39.7,20.6 41.3,22.5 42.9,24.4 44.5,26.2 46.1,28.1 47.7,30.0 49.3,31.9 51.0,33.7 53.0,35.3 54.9,36.8 56.8,38.4 58.8,39.9 60.7,41.5 62.6,43.1 64.6,44.6 66.5,46.2 68.5,47.7 70.4,49.3 72.3,50.8 74.2,52.4 76.1,54.0 78.0,55.6 79.9,57.3 81.7,58.9 83.6,60.5 85.5,62.1 87.4,63.7 89.3,65.3 91.1,66.9 93.0,68.5 94.9,70.2 96.7,71.9 98.4,73.6 100.2,75.4 101.9,77.1 103.7,78.9 105.4,80.6 80.6,105.4 78.9,103.7 77.1,101.9 75.4,100.2 73.6,98.4 71.9,96.7 70.2,94.9 68.5,93.0 66.9,91.1 65.3,89.3 63.7,87.4 62.1,85.5 60.5,83.6 58.9,81.7 57.3,79.9 55.6,78.0 54.0,76.1 52.4,74.2 50.8,72.3 49.3,70.4 47.7,68.5 46.2,66.5 44.6,64.6 43.1,62.6 41.5,60.7 39.9,58.8 38.4,56.8 36.8,54.9 35.3,53.0 33.7,51.0 31.9,49.3 30.0,47.7 28.1,46.1 26.2,44.5 24.4,42.9 22.5,41.3 20.6,39.7 18.7,38.1 16.8,36.5 14.9,34.9 13.0,33.3 11.1,31.7 9.3,30.1 7.4,28.4 5.6,26.7 3.8,25.1 2.0,23.4 0.2,21.7 -1.6,20.0 -3.4,18.4 -5.3,16.7 -7.1,15.0 -8.9,13.3 -10.7,11.7 -12.5,9.9 -14.2,8.2 -16.0,6.4 -17.7,4.7 -19.5,2.9 -21.2,1.2" fill="#ff0000" filter="url(#db1)"/>
<line x1="0" y1="0" x2="82.8" y2="82.2" stroke="#f0a8a8" stroke-width="0.7"/>
</g>
<g transform="translate(297.96,358.00)">
<rect x="0" y="0" width="82.7" height="82.4" fill="#c0c0c0"/>
<g clip-path="url(#cclip2)">
<rect x="0" y="0" width="78.0" height="77.8" fill="#ff0000"/>
<g filter="url(#spk2)"><g filter="url(#cb2)">
<rect x="42.5" y="-10" width="45.5" height="50.0" fill="url(#cr2a)"/>
<rect x="-10" y="42.5" width="50.0" height="45.3" fill="url(#cr2b)"/>
</g></g>
<line x1="0" y1="0" x2="78.0" y2="77.8" stroke="#d2bcbc" stroke-width="0.9"/>
</g>
</g>
<g transform="translate(297.96,478.30)" clip-path="url(#dclip2)">
<rect x="0" y="0" width="82.8" height="82.2" fill="#ffe9e9"/>
<g filter="url(#dspk2)">
<polygon points="12.0,-32.0 13.7,-30.3 15.5,-28.5 17.2,-26.8 19.0,-25.0 20.7,-23.3 22.5,-21.5 24.2,-19.7 25.9,-18.0 27.6,-16.2 29.3,-14.4 31.0,-12.6 32.7,-10.8 34.4,-9.1 36.2,-7.3 37.9,-5.5 39.6,-3.7 41.3,-1.9 43.0,-0.1 44.7,1.7 46.3,3.5 48.0,5.3 49.7,7.1 51.4,8.9 53.1,10.7 54.7,12.5 56.4,14.3 58.1,16.2 59.8,18.0 61.5,19.8 63.2,21.5 65.2,23.1 67.1,24.6 69.1,26.1 71.0,27.7 73.0,29.2 74.9,30.7 76.9,32.3 78.9,33.8 80.8,35.4 82.8,36.9 84.7,38.4 86.6,40.0 88.6,41.6 90.5,43.2 92.4,44.7 94.3,46.3 96.2,47.9 98.1,49.5 100.0,51.1 101.9,52.6 103.9,54.2 105.8,55.8 107.7,57.4 109.5,59.1 111.2,60.8 113.0,62.6 114.7,64.3 116.5,66.1 118.2,67.8 67.8,118.2 66.1,116.5 64.3,114.7 62.6,113.0 60.8,111.2 59.1,109.5 57.4,107.7 55.8,105.8 54.2,103.9 52.6,101.9 51.1,100.0 49.5,98.1 47.9,96.2 46.3,94.3 44.7,92.4 43.2,90.5 41.6,88.6 40.0,86.6 38.4,84.7 36.9,82.8 35.4,80.8 33.8,78.9 32.3,76.9 30.7,74.9 29.2,73.0 27.7,71.0 26.1,69.1 24.6,67.1 23.1,65.2 21.5,63.2 19.8,61.5 18.0,59.8 16.2,58.1 14.3,56.4 12.5,54.7 10.7,53.1 8.9,51.4 7.1,49.7 5.3,48.0 3.5,46.3 1.7,44.7 -0.1,43.0 -1.9,41.3 -3.7,39.6 -5.5,37.9 -7.3,36.2 -9.1,34.4 -10.8,32.7 -12.6,31.0 -14.4,29.3 -16.2,27.6 -18.0,25.9 -19.7,24.2 -21.5,22.5 -23.3,20.7 -25.0,19.0 -26.8,17.2 -28.5,15.5 -30.3,13.7 -32.0,12.0" fill="#ffacac" opacity="0.7" filter="url(#dh2)"/>
<polygon points="5.0,-25.0 6.7,-23.3 8.5,-21.5 10.2,-19.8 12.0,-18.0 13.7,-16.3 15.5,-14.5 17.2,-12.7 18.9,-11.0 20.6,-9.2 22.3,-7.4 24.0,-5.6 25.7,-3.8 27.4,-2.1 29.2,-0.3 30.9,1.5 32.6,3.3 34.3,5.1 36.0,6.9 37.7,8.7 39.3,10.5 41.0,12.3 42.7,14.1 44.4,15.9 46.1,17.7 47.7,19.5 49.4,21.3 51.1,23.2 52.8,25.0 54.5,26.8 56.2,28.5 58.2,30.1 60.1,31.6 62.1,33.1 64.0,34.7 66.0,36.2 67.9,37.7 69.9,39.3 71.9,40.8 73.8,42.4 75.8,43.9 77.7,45.4 79.6,47.0 81.6,48.6 83.5,50.2 85.4,51.7 87.3,53.3 89.2,54.9 91.1,56.5 93.0,58.1 94.9,59.6 96.9,61.2 98.8,62.8 100.7,64.4 102.5,66.1 104.2,67.8 106.0,69.6 107.7,71.3 109.5,73.1 111.2,74.8 74.8,111.2 73.1,109.5 71.3,107.7 69.6,106.0 67.8,104.2 66.1,102.5 64.4,100.7 62.8,98.8 61.2,96.9 59.6,94.9 58.1,93.0 56.5,91.1 54.9,89.2 53.3,87.3 51.7,85.4 50.2,83.5 48.6,81.6 47.0,79.6 45.4,77.7 43.9,75.8 42.4,73.8 40.8,71.9 39.3,69.9 37.7,67.9 36.2,66.0 34.7,64.0 33.1,62.1 31.6,60.1 30.1,58.2 28.5,56.2 26.8,54.5 25.0,52.8 23.2,51.1 21.3,49.4 19.5,47.7 17.7,46.1 15.9,44.4 14.1,42.7 12.3,41.0 10.5,39.3 8.7,37.7 6.9,36.0 5.1,34.3 3.3,32.6 1.5,30.9 -0.3,29.2 -2.1,27.4 -3.8,25.7 -5.6,24.0 -7.4,22.3 -9.2,20.6 -11.0,18.9 -12.7,17.2 -14.5,15.5 -16.3,13.7 -18.0,12.0 -19.8,10.2 -21.5,8.5 -23.3,6.7 -25.0,5.0" fill="#ff3030" opacity="0.75" filter="url(#dh2)"/>
</g>
<polygon points="0.0,-20.0 1.7,-18.3 3.5,-16.5 5.2,-14.8 7.0,-13.0 8.7,-11.3 10.5,-9.5 12.2,-7.7 13.9,-6.0 15.6,-4.2 17.3,-2.4 19.0,-0.6 20.7,1.2 22.4,2.9 24.2,4.7 25.9,6.5 27.6,8.3 29.3,10.1 31.0,11.9 32.7,13.7 34.3,15.5 36.0,17.3 37.7,19.1 39.4,20.9 41.1,22.7 42.7,24.5 44.4,26.3 46.1,28.2 47.8,30.0 49.5,31.8 51.2,33.5 53.2,35.1 55.1,36.6 57.1,38.1 59.0,39.7 61.0,41.2 62.9,42.7 64.9,44.3 66.9,45.8 68.8,47.4 70.8,48.9 72.7,50.4 74.6,52.0 76.6,53.6 78.5,55.2 80.4,56.7 82.3,58.3 84.2,59.9 86.1,61.5 88.0,63.1 89.9,64.6 91.9,66.2 93.8,67.8 95.7,69.4 97.5,71.1 99.2,72.8 101.0,74.6 102.7,76.3 104.5,78.1 106.2,79.8 79.8,106.2 78.1,104.5 76.3,102.7 74.6,101.0 72.8,99.2 71.1,97.5 69.4,95.7 67.8,93.8 66.2,91.9 64.6,89.9 63.1,88.0 61.5,86.1 59.9,84.2 58.3,82.3 56.7,80.4 55.2,78.5 53.6,76.6 52.0,74.6 50.4,72.7 48.9,70.8 47.4,68.8 45.8,66.9 44.3,64.9 42.7,62.9 41.2,61.0 39.7,59.0 38.1,57.1 36.6,55.1 35.1,53.2 33.5,51.2 31.8,49.5 30.0,47.8 28.2,46.1 26.3,44.4 24.5,42.7 22.7,41.1 20.9,39.4 19.1,37.7 17.3,36.0 15.5,34.3 13.7,32.7 11.9,31.0 10.1,29.3 8.3,27.6 6.5,25.9 4.7,24.2 2.9,22.4 1.2,20.7 -0.6,19.0 -2.4,17.3 -4.2,15.6 -6.0,13.9 -7.7,12.2 -9.5,10.5 -11.3,8.7 -13.0,7.0 -14.8,5.2 -16.5,3.5 -18.3,1.7 -20.0,0.0" fill="#ff0000" filter="url(#db2)"/>
<line x1="0" y1="0" x2="82.8" y2="82.2" stroke="#f0a8a8" stroke-width="0.7"/>
</g>
<g transform="translate(399.34,358.00)">
<rect x="0" y="0" width="82.7" height="82.4" fill="#c0c0c0"/>
<g clip-path="url(#cclip3)">
<rect x="0" y="0" width="78.0" height="77.8" fill="#ff0000"/>
<g filter="url(#spk3)"><g filter="url(#cb3)">
<rect x="42.0" y="-10" width="46.0" height="50.5" fill="url(#cr3a)"/>
<rect x="-10" y="42.0" width="50.5" height="45.8" fill="url(#cr3b)"/>
</g></g>
<line x1="0" y1="0" x2="76.1" y2="76.2" stroke="#d2bcbc" stroke-width="0.9"/>
<polyline points="0,76.2 76.1,76.2 76.1,0" fill="none" stroke="#e6d8d8" stroke-width="0.8"/>
<rect x="76.1" y="76.2" width="2" height="2" fill="#c0c0c0"/>
</g>
</g>
<g transform="translate(399.34,478.30)" clip-path="url(#dclip3)">
<rect x="0" y="0" width="82.8" height="82.2" fill="#ffe9e9"/>
<g filter="url(#dspk3)">
<polygon points="12.4,-32.4 14.1,-30.7 15.9,-28.9 17.6,-27.2 19.4,-25.4 21.1,-23.7 22.9,-21.9 24.5,-20.1 26.2,-18.3 27.9,-16.5 29.6,-14.6 31.2,-12.8 32.9,-11.0 34.6,-9.2 36.3,-7.4 37.9,-5.6 39.6,-3.8 41.3,-1.9 43.0,-0.1 44.7,1.7 46.3,3.5 48.0,5.3 49.7,7.1 51.4,8.9 53.1,10.7 54.7,12.5 56.4,14.3 58.1,16.2 59.8,18.0 61.5,19.8 63.2,21.5 65.3,23.0 67.3,24.4 69.3,25.9 71.3,27.4 73.4,28.8 75.4,30.3 77.4,31.8 79.4,33.2 81.5,34.7 83.5,36.2 85.5,37.6 87.5,39.2 89.4,40.7 91.4,42.3 93.3,43.8 95.3,45.4 97.2,46.9 99.1,48.4 101.1,50.0 103.0,51.5 105.0,53.1 106.9,54.6 108.9,56.2 110.7,57.9 112.4,59.6 114.2,61.4 115.9,63.1 117.7,64.9 119.4,66.6 66.6,119.4 64.9,117.7 63.1,115.9 61.4,114.2 59.6,112.4 57.9,110.7 56.2,108.9 54.6,106.9 53.1,105.0 51.5,103.0 50.0,101.1 48.4,99.1 46.9,97.2 45.4,95.3 43.8,93.3 42.3,91.4 40.7,89.4 39.2,87.5 37.6,85.5 36.2,83.5 34.7,81.5 33.2,79.4 31.8,77.4 30.3,75.4 28.8,73.4 27.4,71.3 25.9,69.3 24.4,67.3 23.0,65.3 21.5,63.2 19.8,61.5 18.0,59.8 16.2,58.1 14.3,56.4 12.5,54.7 10.7,53.1 8.9,51.4 7.1,49.7 5.3,48.0 3.5,46.3 1.7,44.7 -0.1,43.0 -1.9,41.3 -3.8,39.6 -5.6,37.9 -7.4,36.3 -9.2,34.6 -11.0,32.9 -12.8,31.2 -14.6,29.6 -16.5,27.9 -18.3,26.2 -20.1,24.5 -21.9,22.9 -23.7,21.1 -25.4,19.4 -27.2,17.6 -28.9,15.9 -30.7,14.1 -32.4,12.4" fill="#ffacac" opacity="0.7" filter="url(#dh3)"/>
<polygon points="5.4,-25.4 7.1,-23.7 8.9,-21.9 10.6,-20.2 12.4,-18.4 14.1,-16.7 15.9,-14.9 17.5,-13.1 19.2,-11.3 20.9,-9.5 22.6,-7.6 24.2,-5.8 25.9,-4.0 27.6,-2.2 29.3,-0.4 30.9,1.4 32.6,3.2 34.3,5.1 36.0,6.9 37.7,8.7 39.3,10.5 41.0,12.3 42.7,14.1 44.4,15.9 46.1,17.7 47.7,19.5 49.4,21.3 51.1,23.2 52.8,25.0 54.5,26.8 56.2,28.5 58.3,30.0 60.3,31.4 62.3,32.9 64.3,34.4 66.4,35.8 68.4,37.3 70.4,38.8 72.4,40.2 74.5,41.7 76.5,43.2 78.5,44.6 80.5,46.2 82.4,47.7 84.4,49.3 86.3,50.8 88.3,52.4 90.2,53.9 92.1,55.4 94.1,57.0 96.0,58.5 98.0,60.1 99.9,61.6 101.9,63.2 103.7,64.9 105.4,66.6 107.2,68.4 108.9,70.1 110.7,71.9 112.4,73.6 73.6,112.4 71.9,110.7 70.1,108.9 68.4,107.2 66.6,105.4 64.9,103.7 63.2,101.9 61.6,99.9 60.1,98.0 58.5,96.0 57.0,94.1 55.4,92.1 53.9,90.2 52.4,88.3 50.8,86.3 49.3,84.4 47.7,82.4 46.2,80.5 44.6,78.5 43.2,76.5 41.7,74.5 40.2,72.4 38.8,70.4 37.3,68.4 35.8,66.4 34.4,64.3 32.9,62.3 31.4,60.3 30.0,58.3 28.5,56.2 26.8,54.5 25.0,52.8 23.2,51.1 21.3,49.4 19.5,47.7 17.7,46.1 15.9,44.4 14.1,42.7 12.3,41.0 10.5,39.3 8.7,37.7 6.9,36.0 5.1,34.3 3.2,32.6 1.4,30.9 -0.4,29.3 -2.2,27.6 -4.0,25.9 -5.8,24.2 -7.6,22.6 -9.5,20.9 -11.3,19.2 -13.1,17.5 -14.9,15.9 -16.7,14.1 -18.4,12.4 -20.2,10.6 -21.9,8.9 -23.7,7.1 -25.4,5.4" fill="#ff3030" opacity="0.75" filter="url(#dh3)"/>
</g>
<polygon points="0.4,-20.4 2.1,-18.7 3.9,-16.9 5.6,-15.2 7.4,-13.4 9.1,-11.7 10.9,-9.9 12.5,-8.1 14.2,-6.3 15.9,-4.5 17.6,-2.6 19.2,-0.8 20.9,1.0 22.6,2.8 24.3,4.6 25.9,6.4 27.6,8.2 29.3,10.1 31.0,11.9 32.7,13.7 34.3,15.5 36.0,17.3 37.7,19.1 39.4,20.9 41.1,22.7 42.7,24.5 44.4,26.3 46.1,28.2 47.8,30.0 49.5,31.8 51.2,33.5 53.3,35.0 55.3,36.4 57.3,37.9 59.3,39.4 61.4,40.8 63.4,42.3 65.4,43.8 67.4,45.2 69.5,46.7 71.5,48.2 73.5,49.6 75.5,51.2 77.4,52.7 79.4,54.3 81.3,55.8 83.3,57.4 85.2,58.9 87.1,60.4 89.1,62.0 91.0,63.5 93.0,65.1 94.9,66.6 96.9,68.2 98.7,69.9 100.4,71.6 102.2,73.4 103.9,75.1 105.7,76.9 107.4,78.6 78.6,107.4 76.9,105.7 75.1,103.9 73.4,102.2 71.6,100.4 69.9,98.7 68.2,96.9 66.6,94.9 65.1,93.0 63.5,91.0 62.0,89.1 60.4,87.1 58.9,85.2 57.4,83.3 55.8,81.3 54.3,79.4 52.7,77.4 51.2,75.5 49.6,73.5 48.2,71.5 46.7,69.5 45.2,67.4 43.8,65.4 42.3,63.4 40.8,61.4 39.4,59.3 37.9,57.3 36.4,55.3 35.0,53.3 33.5,51.2 31.8,49.5 30.0,47.8 28.2,46.1 26.3,44.4 24.5,42.7 22.7,41.1 20.9,39.4 19.1,37.7 17.3,36.0 15.5,34.3 13.7,32.7 11.9,31.0 10.1,29.3 8.2,27.6 6.4,25.9 4.6,24.3 2.8,22.6 1.0,20.9 -0.8,19.2 -2.6,17.6 -4.5,15.9 -6.3,14.2 -8.1,12.5 -9.9,10.9 -11.7,9.1 -13.4,7.4 -15.2,5.6 -16.9,3.9 -18.7,2.1 -20.4,0.4" fill="#ff0000" filter="url(#db3)"/>
<line x1="0" y1="0" x2="82.8" y2="82.2" stroke="#f0a8a8" stroke-width="0.7"/>
</g>
<g transform="translate(500.72,358.00)">
<rect x="0" y="0" width="82.7" height="82.4" fill="#c0c0c0"/>
<g clip-path="url(#cclip4)">
<rect x="0" y="0" width="78.0" height="77.8" fill="#ff0000"/>
<g filter="url(#spk4)"><g filter="url(#cb4)">
<rect x="41.5" y="-10" width="46.5" height="49.5" fill="url(#cr4a)"/>
<rect x="-10" y="41.5" width="49.5" height="46.3" fill="url(#cr4b)"/>
</g></g>
<line x1="0" y1="0" x2="78.0" y2="77.8" stroke="#d2bcbc" stroke-width="0.9"/>
</g>
</g>
<g transform="translate(500.72,478.30)" clip-path="url(#dclip4)">
<rect x="0" y="0" width="82.8" height="82.2" fill="#ffe9e9"/>
<g filter="url(#dspk4)">
<polygon points="12.0,-32.0 13.7,-30.3 15.5,-28.5 17.2,-26.8 19.0,-25.0 20.7,-23.3 22.5,-21.5 24.1,-19.7 25.8,-17.9 27.5,-16.1 29.2,-14.2 30.8,-12.4 32.5,-10.6 34.2,-8.8 35.9,-7.0 37.5,-5.2 39.2,-3.4 40.9,-1.5 42.6,0.3 44.3,2.1 45.9,3.9 47.6,5.7 49.3,7.5 51.0,9.3 52.7,11.1 54.3,12.9 56.0,14.7 57.7,16.6 59.4,18.4 61.1,20.2 62.8,21.9 64.9,23.3 67.0,24.8 69.0,26.2 71.1,27.6 73.1,29.1 75.2,30.5 77.3,31.9 79.3,33.4 81.4,34.8 83.4,36.2 85.5,37.7 87.5,39.2 89.4,40.7 91.4,42.3 93.3,43.8 95.3,45.4 97.2,46.9 99.1,48.4 101.1,50.0 103.0,51.5 105.0,53.1 106.9,54.6 108.9,56.2 110.7,57.9 112.4,59.6 114.2,61.4 115.9,63.1 117.7,64.9 119.4,66.6 66.6,119.4 64.9,117.7 63.1,115.9 61.4,114.2 59.6,112.4 57.9,110.7 56.2,108.9 54.6,106.9 53.1,105.0 51.5,103.0 50.0,101.1 48.4,99.1 46.9,97.2 45.4,95.3 43.8,93.3 42.3,91.4 40.7,89.4 39.2,87.5 37.7,85.5 36.2,83.4 34.8,81.4 33.4,79.3 31.9,77.3 30.5,75.2 29.1,73.1 27.6,71.1 26.2,69.0 24.8,67.0 23.3,64.9 21.9,62.8 20.2,61.1 18.4,59.4 16.6,57.7 14.7,56.0 12.9,54.3 11.1,52.7 9.3,51.0 7.5,49.3 5.7,47.6 3.9,45.9 2.1,44.3 0.3,42.6 -1.5,40.9 -3.4,39.2 -5.2,37.5 -7.0,35.9 -8.8,34.2 -10.6,32.5 -12.4,30.8 -14.2,29.2 -16.1,27.5 -17.9,25.8 -19.7,24.1 -21.5,22.5 -23.3,20.7 -25.0,19.0 -26.8,17.2 -28.5,15.5 -30.3,13.7 -32.0,12.0" fill="#ffacac" opacity="0.7" filter="url(#dh4)"/>
<polygon points="5.0,-25.0 6.7,-23.3 8.5,-21.5 10.2,-19.8 12.0,-18.0 13.7,-16.3 15.5,-14.5 17.1,-12.7 18.8,-10.9 20.5,-9.1 22.2,-7.2 23.8,-5.4 25.5,-3.6 27.2,-1.8 28.9,0.0 30.5,1.8 32.2,3.6 33.9,5.5 35.6,7.3 37.3,9.1 38.9,10.9 40.6,12.7 42.3,14.5 44.0,16.3 45.7,18.1 47.3,19.9 49.0,21.7 50.7,23.6 52.4,25.4 54.1,27.2 55.8,28.9 57.9,30.3 60.0,31.8 62.0,33.2 64.1,34.6 66.1,36.1 68.2,37.5 70.3,38.9 72.3,40.4 74.4,41.8 76.4,43.2 78.5,44.7 80.5,46.2 82.4,47.7 84.4,49.3 86.3,50.8 88.3,52.4 90.2,53.9 92.1,55.4 94.1,57.0 96.0,58.5 98.0,60.1 99.9,61.6 101.9,63.2 103.7,64.9 105.4,66.6 107.2,68.4 108.9,70.1 110.7,71.9 112.4,73.6 73.6,112.4 71.9,110.7 70.1,108.9 68.4,107.2 66.6,105.4 64.9,103.7 63.2,101.9 61.6,99.9 60.1,98.0 58.5,96.0 57.0,94.1 55.4,92.1 53.9,90.2 52.4,88.3 50.8,86.3 49.3,84.4 47.7,82.4 46.2,80.5 44.7,78.5 43.2,76.4 41.8,74.4 40.4,72.3 38.9,70.3 37.5,68.2 36.1,66.1 34.6,64.1 33.2,62.0 31.8,60.0 30.3,57.9 28.9,55.8 27.2,54.1 25.4,52.4 23.6,50.7 21.7,49.0 19.9,47.3 18.1,45.7 16.3,44.0 14.5,42.3 12.7,40.6 10.9,38.9 9.1,37.3 7.3,35.6 5.5,33.9 3.6,32.2 1.8,30.5 0.0,28.9 -1.8,27.2 -3.6,25.5 -5.4,23.8 -7.2,22.2 -9.1,20.5 -10.9,18.8 -12.7,17.1 -14.5,15.5 -16.3,13.7 -18.0,12.0 -19.8,10.2 -21.5,8.5 -23.3,6.7 -25.0,5.0" fill="#ff3030" opacity="0.75" filter="url(#dh4)"/>
</g>
<polygon points="0.0,-20.0 1.7,-18.3 3.5,-16.5 5.2,-14.8 7.0,-13.0 8.7,-11.3 10.5,-9.5 12.1,-7.7 13.8,-5.9 15.5,-4.1 17.2,-2.2 18.8,-0.4 20.5,1.4 22.2,3.2 23.9,5.0 25.5,6.8 27.2,8.6 28.9,10.5 30.6,12.3 32.3,14.1 33.9,15.9 35.6,17.7 37.3,19.5 39.0,21.3 40.7,23.1 42.3,24.9 44.0,26.7 45.7,28.6 47.4,30.4 49.1,32.2 50.8,33.9 52.9,35.3 55.0,36.8 57.0,38.2 59.1,39.6 61.1,41.1 63.2,42.5 65.3,43.9 67.3,45.4 69.4,46.8 71.4,48.2 73.5,49.7 75.5,51.2 77.4,52.7 79.4,54.3 81.3,55.8 83.3,57.4 85.2,58.9 87.1,60.4 89.1,62.0 91.0,63.5 93.0,65.1 94.9,66.6 96.9,68.2 98.7,69.9 100.4,71.6 102.2,73.4 103.9,75.1 105.7,76.9 107.4,78.6 78.6,107.4 76.9,105.7 75.1,103.9 73.4,102.2 71.6,100.4 69.9,98.7 68.2,96.9 66.6,94.9 65.1,93.0 63.5,91.0 62.0,89.1 60.4,87.1 58.9,85.2 57.4,83.3 55.8,81.3 54.3,79.4 52.7,77.4 51.2,75.5 49.7,73.5 48.2,71.4 46.8,69.4 45.4,67.3 43.9,65.3 42.5,63.2 41.1,61.1 39.6,59.1 38.2,57.0 36.8,55.0 35.3,52.9 33.9,50.8 32.2,49.1 30.4,47.4 28.6,45.7 26.7,44.0 24.9,42.3 23.1,40.7 21.3,39.0 19.5,37.3 17.7,35.6 15.9,33.9 14.1,32.3 12.3,30.6 10.5,28.9 8.6,27.2 6.8,25.5 5.0,23.9 3.2,22.2 1.4,20.5 -0.4,18.8 -2.2,17.2 -4.1,15.5 -5.9,13.8 -7.7,12.1 -9.5,10.5 -11.3,8.7 -13.0,7.0 -14.8,5.2 -16.5,3.5 -18.3,1.7 -20.0,0.0" fill="#ff0000" filter="url(#db4)"/>
<line x1="0" y1="0" x2="82.8" y2="82.2" stroke="#f0a8a8" stroke-width="0.7"/>
</g>
<g transform="translate(602.10,358.00)">
<rect x="0" y="0" width="82.7" height="82.4" fill="#c0c0c0"/>
<g clip-path="url(#cclip5)">
<rect x="0" y="0" width="78.0" height="77.8" fill="#ff0000"/>
<g filter="url(#spk5)"><g filter="url(#cb5)">
<rect x="41.5" y="-10" width="46.5" height="49.5" fill="url(#cr5a)"/>
<rect x="-10" y="41.5" width="49.5" height="46.3" fill="url(#cr5b)"/>
</g></g>
<line x1="0" y1="0" x2="78.0" y2="77.8" stroke="#d2bcbc" stroke-width="0.9"/>
</g>
</g>
<g transform="translate(602.10,478.30)" clip-path="url(#dclip5)">
<rect x="0" y="0" width="82.8" height="82.2" fill="#ffe9e9"/>
<g filter="url(#dspk5)">
<polygon points="12.0,-32.0 13.7,-30.3 15.5,-28.5 17.2,-26.8 19.0,-25.0 20.7,-23.3 22.5,-21.5 24.1,-19.7 25.8,-17.9 27.5,-16.1 29.2,-14.2 30.8,-12.4 32.5,-10.6 34.2,-8.8 35.9,-7.0 37.5,-5.2 39.2,-3.4 40.9,-1.5 42.6,0.2 44.3,2.0 46.0,3.8 47.7,5.6 49.5,7.4 51.2,9.1 52.9,10.9 54.6,12.7 56.3,14.5 58.0,16.2 59.7,18.0 61.5,19.8 63.2,21.5 65.2,23.0 67.2,24.5 69.2,26.0 71.2,27.5 73.2,29.0 75.2,30.5 77.2,32.0 79.1,33.5 81.1,35.0 83.1,36.5 85.1,38.0 87.0,39.6 88.9,41.2 90.8,42.8 92.7,44.5 94.5,46.1 96.4,47.7 98.3,49.3 100.2,50.9 102.1,52.5 103.9,54.1 105.8,55.7 107.7,57.4 109.5,59.1 111.2,60.8 113.0,62.6 114.7,64.3 116.5,66.1 118.2,67.8 67.8,118.2 66.1,116.5 64.3,114.7 62.6,113.0 60.8,111.2 59.1,109.5 57.4,107.7 55.7,105.8 54.1,103.9 52.5,102.1 50.9,100.2 49.3,98.3 47.7,96.4 46.1,94.5 44.5,92.7 42.8,90.8 41.2,88.9 39.6,87.0 38.0,85.1 36.5,83.1 35.0,81.1 33.5,79.1 32.0,77.2 30.5,75.2 29.0,73.2 27.5,71.2 26.0,69.2 24.5,67.2 23.0,65.2 21.5,63.2 19.8,61.5 18.0,59.7 16.2,58.0 14.5,56.3 12.7,54.6 10.9,52.9 9.1,51.2 7.4,49.5 5.6,47.7 3.8,46.0 2.0,44.3 0.2,42.6 -1.5,40.9 -3.4,39.2 -5.2,37.5 -7.0,35.9 -8.8,34.2 -10.6,32.5 -12.4,30.8 -14.2,29.2 -16.1,27.5 -17.9,25.8 -19.7,24.1 -21.5,22.5 -23.3,20.7 -25.0,19.0 -26.8,17.2 -28.5,15.5 -30.3,13.7 -32.0,12.0" fill="#ffacac" opacity="0.7" filter="url(#dh5)"/>
<polygon points="5.0,-25.0 6.7,-23.3 8.5,-21.5 10.2,-19.8 12.0,-18.0 13.7,-16.3 15.5,-14.5 17.1,-12.7 18.8,-10.9 20.5,-9.1 22.2,-7.2 23.8,-5.4 25.5,-3.6 27.2,-1.8 28.9,0.0 30.5,1.8 32.2,3.6 33.9,5.5 35.6,7.2 37.3,9.0 39.0,10.8 40.7,12.6 42.5,14.4 44.2,16.1 45.9,17.9 47.6,19.7 49.3,21.5 51.0,23.2 52.7,25.0 54.5,26.8 56.2,28.5 58.2,30.0 60.2,31.5 62.2,33.0 64.2,34.5 66.2,36.0 68.2,37.5 70.2,39.0 72.1,40.5 74.1,42.0 76.1,43.5 78.1,45.0 80.0,46.6 81.9,48.2 83.8,49.8 85.7,51.5 87.5,53.1 89.4,54.7 91.3,56.3 93.2,57.9 95.1,59.5 96.9,61.1 98.8,62.7 100.7,64.4 102.5,66.1 104.2,67.8 106.0,69.6 107.7,71.3 109.5,73.1 111.2,74.8 74.8,111.2 73.1,109.5 71.3,107.7 69.6,106.0 67.8,104.2 66.1,102.5 64.4,100.7 62.7,98.8 61.1,96.9 59.5,95.1 57.9,93.2 56.3,91.3 54.7,89.4 53.1,87.5 51.5,85.7 49.8,83.8 48.2,81.9 46.6,80.0 45.0,78.1 43.5,76.1 42.0,74.1 40.5,72.1 39.0,70.2 37.5,68.2 36.0,66.2 34.5,64.2 33.0,62.2 31.5,60.2 30.0,58.2 28.5,56.2 26.8,54.5 25.0,52.7 23.2,51.0 21.5,49.3 19.7,47.6 17.9,45.9 16.1,44.2 14.4,42.5 12.6,40.7 10.8,39.0 9.0,37.3 7.2,35.6 5.5,33.9 3.6,32.2 1.8,30.5 0.0,28.9 -1.8,27.2 -3.6,25.5 -5.4,23.8 -7.2,22.2 -9.1,20.5 -10.9,18.8 -12.7,17.1 -14.5,15.5 -16.3,13.7 -18.0,12.0 -19.8,10.2 -21.5,8.5 -23.3,6.7 -25.0,5.0" fill="#ff3030" opacity="0.75" filter="url(#dh5)"/>
</g>
<polygon points="0.0,-20.0 1.7,-18.3 3.5,-16.5 5.2,-14.8 7.0,-13.0 8.7,-11.3 10.5,-9.5 12.1,-7.7 13.8,-5.9 15.5,-4.1 17.2,-2.2 18.8,-0.4 20.5,1.4 22.2,3.2 23.9,5.0 25.5,6.8 27.2,8.6 28.9,10.5 30.6,12.2 32.3,14.0 34.0,15.8 35.7,17.6 37.5,19.4 39.2,21.1 40.9,22.9 42.6,24.7 44.3,26.5 46.0,28.2 47.7,30.0 49.5,31.8 51.2,33.5 53.2,35.0 55.2,36.5 57.2,38.0 59.2,39.5 61.2,41.0 63.2,42.5 65.2,44.0 67.1,45.5 69.1,47.0 71.1,48.5 73.1,50.0 75.0,51.6 76.9,53.2 78.8,54.8 80.7,56.5 82.5,58.1 84.4,59.7 86.3,61.3 88.2,62.9 90.1,64.5 91.9,66.1 93.8,67.7 95.7,69.4 97.5,71.1 99.2,72.8 101.0,74.6 102.7,76.3 104.5,78.1 106.2,79.8 79.8,106.2 78.1,104.5 76.3,102.7 74.6,101.0 72.8,99.2 71.1,97.5 69.4,95.7 67.7,93.8 66.1,91.9 64.5,90.1 62.9,88.2 61.3,86.3 59.7,84.4 58.1,82.5 56.5,80.7 54.8,78.8 53.2,76.9 51.6,75.0 50.0,73.1 48.5,71.1 47.0,69.1 45.5,67.1 44.0,65.2 42.5,63.2 41.0,61.2 39.5,59.2 38.0,57.2 36.5,55.2 35.0,53.2 33.5,51.2 31.8,49.5 30.0,47.7 28.2,46.0 26.5,44.3 24.7,42.6 22.9,40.9 21.1,39.2 19.4,37.5 17.6,35.7 15.8,34.0 14.0,32.3 12.2,30.6 10.5,28.9 8.6,27.2 6.8,25.5 5.0,23.9 3.2,22.2 1.4,20.5 -0.4,18.8 -2.2,17.2 -4.1,15.5 -5.9,13.8 -7.7,12.1 -9.5,10.5 -11.3,8.7 -13.0,7.0 -14.8,5.2 -16.5,3.5 -18.3,1.7 -20.0,0.0" fill="#ff0000" filter="url(#db5)"/>
<line x1="0" y1="0" x2="82.8" y2="82.2" stroke="#f0a8a8" stroke-width="0.7"/>
</g>
<text x="136.70" y="343.40" font-size="11.3" text-anchor="middle" font-weight="normal" font-style="normal" fill="#1c1a1a" stroke="#1c1a1a" stroke-width="0.12" >KU216</text>
<text x="238.08" y="343.40" font-size="11.3" text-anchor="middle" font-weight="normal" font-style="normal" fill="#1c1a1a" stroke="#1c1a1a" stroke-width="0.12" >Δ<tspan font-style="italic">smc</tspan></text>
<text x="339.46" y="343.40" font-size="11.3" text-anchor="middle" font-weight="normal" font-style="normal" fill="#1c1a1a" stroke="#1c1a1a" stroke-width="0.12" >Δ<tspan font-style="italic">scpA</tspan></text>
<text x="440.84" y="343.40" font-size="11.3" text-anchor="middle" font-weight="normal" font-style="normal" fill="#1c1a1a" stroke="#1c1a1a" stroke-width="0.12" >Δ<tspan font-style="italic">scpB</tspan></text>
<text x="542.22" y="336.30" font-size="11.3" text-anchor="middle" font-weight="normal" font-style="normal" fill="#1c1a1a" stroke="#1c1a1a" stroke-width="0.12" >Δ<tspan font-style="italic">smc</tspan></text>
<text x="542.22" y="348.30" font-size="11.3" text-anchor="middle" font-weight="normal" font-style="normal" fill="#1c1a1a" stroke="#1c1a1a" stroke-width="0.12" >Δ<tspan font-style="italic">scpA</tspan></text>
<text x="643.60" y="336.30" font-size="11.3" text-anchor="middle" font-weight="normal" font-style="normal" fill="#1c1a1a" stroke="#1c1a1a" stroke-width="0.12" >Δ<tspan font-style="italic">smc</tspan></text>
<text x="643.60" y="348.30" font-size="11.3" text-anchor="middle" font-weight="normal" font-style="normal" fill="#1c1a1a" stroke="#1c1a1a" stroke-width="0.12" >Δ<tspan font-style="italic">scpB</tspan></text>
<text x="66.60" y="347.00" font-size="9.9" text-anchor="start" font-weight="normal" font-style="normal" fill="#1c1a1a" stroke="#1c1a1a" stroke-width="0.12" >(Mb)</text>
<line x1="91.20" y1="358.00" x2="95.20" y2="358.00" stroke="#231f20" stroke-width="1.2" />
<text x="88.80" y="360.10" font-size="9.9" text-anchor="end" font-weight="normal" font-style="normal" fill="#1c1a1a" stroke="#1c1a1a" stroke-width="0.12" >0.444</text>
<line x1="95.20" y1="440.30" x2="95.20" y2="444.40" stroke="#231f20" stroke-width="1.2" />
<text x="95.20" y="455.20" font-size="9.9" text-anchor="middle" font-weight="normal" font-style="normal" fill="#1c1a1a" stroke="#1c1a1a" stroke-width="0.12" >0.444</text>
<line x1="91.20" y1="399.15" x2="95.20" y2="399.15" stroke="#231f20" stroke-width="1.2" />
<text x="88.80" y="401.25" font-size="9.9" text-anchor="end" font-weight="normal" font-style="normal" fill="#1c1a1a" stroke="#1c1a1a" stroke-width="0.12" >0.484</text>
<line x1="136.55" y1="440.30" x2="136.55" y2="444.40" stroke="#231f20" stroke-width="1.2" />
<text x="136.55" y="455.20" font-size="9.9" text-anchor="middle" font-weight="normal" font-style="normal" fill="#1c1a1a" stroke="#1c1a1a" stroke-width="0.12" >0.484</text>
<line x1="91.20" y1="440.30" x2="95.20" y2="440.30" stroke="#231f20" stroke-width="1.2" />
<text x="88.80" y="442.40" font-size="9.9" text-anchor="end" font-weight="normal" font-style="normal" fill="#1c1a1a" stroke="#1c1a1a" stroke-width="0.12" >0.524</text>
<line x1="177.90" y1="440.30" x2="177.90" y2="444.40" stroke="#231f20" stroke-width="1.2" />
<text x="177.90" y="455.20" font-size="9.9" text-anchor="middle" font-weight="normal" font-style="normal" fill="#1c1a1a" stroke="#1c1a1a" stroke-width="0.12" >0.524</text>
<text x="176.60" y="369.00" font-size="9.3" text-anchor="end" font-weight="normal" font-style="normal" fill="#1c1a1a" stroke="#1c1a1a" stroke-width="0.12" >1-kb res.</text>
<text x="66.60" y="467.20" font-size="9.9" text-anchor="start" font-weight="normal" font-style="normal" fill="#1c1a1a" stroke="#1c1a1a" stroke-width="0.12" >(Mb)</text>
<line x1="91.20" y1="478.30" x2="95.20" y2="478.30" stroke="#231f20" stroke-width="1.2" />
<text x="88.80" y="480.40" font-size="9.9" text-anchor="end" font-weight="normal" font-style="normal" fill="#1c1a1a" stroke="#1c1a1a" stroke-width="0.12" >1.462</text>
<line x1="95.20" y1="560.40" x2="95.20" y2="564.20" stroke="#231f20" stroke-width="1.2" />
<text x="95.20" y="575.40" font-size="9.9" text-anchor="middle" font-weight="normal" font-style="normal" fill="#1c1a1a" stroke="#1c1a1a" stroke-width="0.12" >1.462</text>
<line x1="91.20" y1="519.35" x2="95.20" y2="519.35" stroke="#231f20" stroke-width="1.2" />
<text x="88.80" y="521.45" font-size="9.9" text-anchor="end" font-weight="normal" font-style="normal" fill="#1c1a1a" stroke="#1c1a1a" stroke-width="0.12" >1.562</text>
<line x1="136.55" y1="560.40" x2="136.55" y2="564.20" stroke="#231f20" stroke-width="1.2" />
<text x="136.55" y="575.40" font-size="9.9" text-anchor="middle" font-weight="normal" font-style="normal" fill="#1c1a1a" stroke="#1c1a1a" stroke-width="0.12" >1.562</text>
<line x1="91.20" y1="560.40" x2="95.20" y2="560.40" stroke="#231f20" stroke-width="1.2" />
<text x="88.80" y="562.50" font-size="9.9" text-anchor="end" font-weight="normal" font-style="normal" fill="#1c1a1a" stroke="#1c1a1a" stroke-width="0.12" >1.662</text>
<line x1="177.90" y1="560.40" x2="177.90" y2="564.20" stroke="#231f20" stroke-width="1.2" />
<text x="177.90" y="575.40" font-size="9.9" text-anchor="middle" font-weight="normal" font-style="normal" fill="#1c1a1a" stroke="#1c1a1a" stroke-width="0.12" >1.662</text>
<text x="176.60" y="489.20" font-size="9.3" text-anchor="end" font-weight="normal" font-style="normal" fill="#1c1a1a" stroke="#1c1a1a" stroke-width="0.12" >1-kb res.</text>
<text x="24.00" y="391.00" font-size="9.9" text-anchor="middle" font-weight="normal" font-style="normal" fill="#1c1a1a" stroke="#1c1a1a" stroke-width="0.12" >Boundary 1</text>
<rect x="10.30" y="404.50" width="27.80" height="5.20" fill="url(#cbRed)" stroke="#000" stroke-width="1.4"/>
<line x1="10.20" y1="409.80" x2="10.20" y2="413.20" stroke="#000" stroke-width="1.4" />
<line x1="38.20" y1="409.80" x2="38.20" y2="413.20" stroke="#000" stroke-width="1.4" />
<text x="10.20" y="423.20" font-size="9.9" text-anchor="middle" font-weight="normal" font-style="normal" fill="#1c1a1a" stroke="#1c1a1a" stroke-width="0.12" >0</text>
<text x="38.20" y="423.20" font-size="9.9" text-anchor="middle" font-weight="normal" font-style="normal" fill="#1c1a1a" stroke="#1c1a1a" stroke-width="0.12" >1.5</text>
<text x="24.00" y="511.60" font-size="9.9" text-anchor="middle" font-weight="normal" font-style="normal" fill="#1c1a1a" stroke="#1c1a1a" stroke-width="0.12" >Boundary 2</text>
<rect x="10.30" y="525.10" width="27.80" height="5.20" fill="url(#cbRed)" stroke="#000" stroke-width="1.4"/>
<line x1="10.20" y1="530.40" x2="10.20" y2="533.80" stroke="#000" stroke-width="1.4" />
<line x1="38.20" y1="530.40" x2="38.20" y2="533.80" stroke="#000" stroke-width="1.4" />
<text x="10.20" y="543.20" font-size="9.9" text-anchor="middle" font-weight="normal" font-style="normal" fill="#1c1a1a" stroke="#1c1a1a" stroke-width="0.12" >0.3</text>
<text x="38.20" y="543.20" font-size="9.9" text-anchor="middle" font-weight="normal" font-style="normal" fill="#1c1a1a" stroke="#1c1a1a" stroke-width="0.12" >1.2</text>
</svg></body></html>
